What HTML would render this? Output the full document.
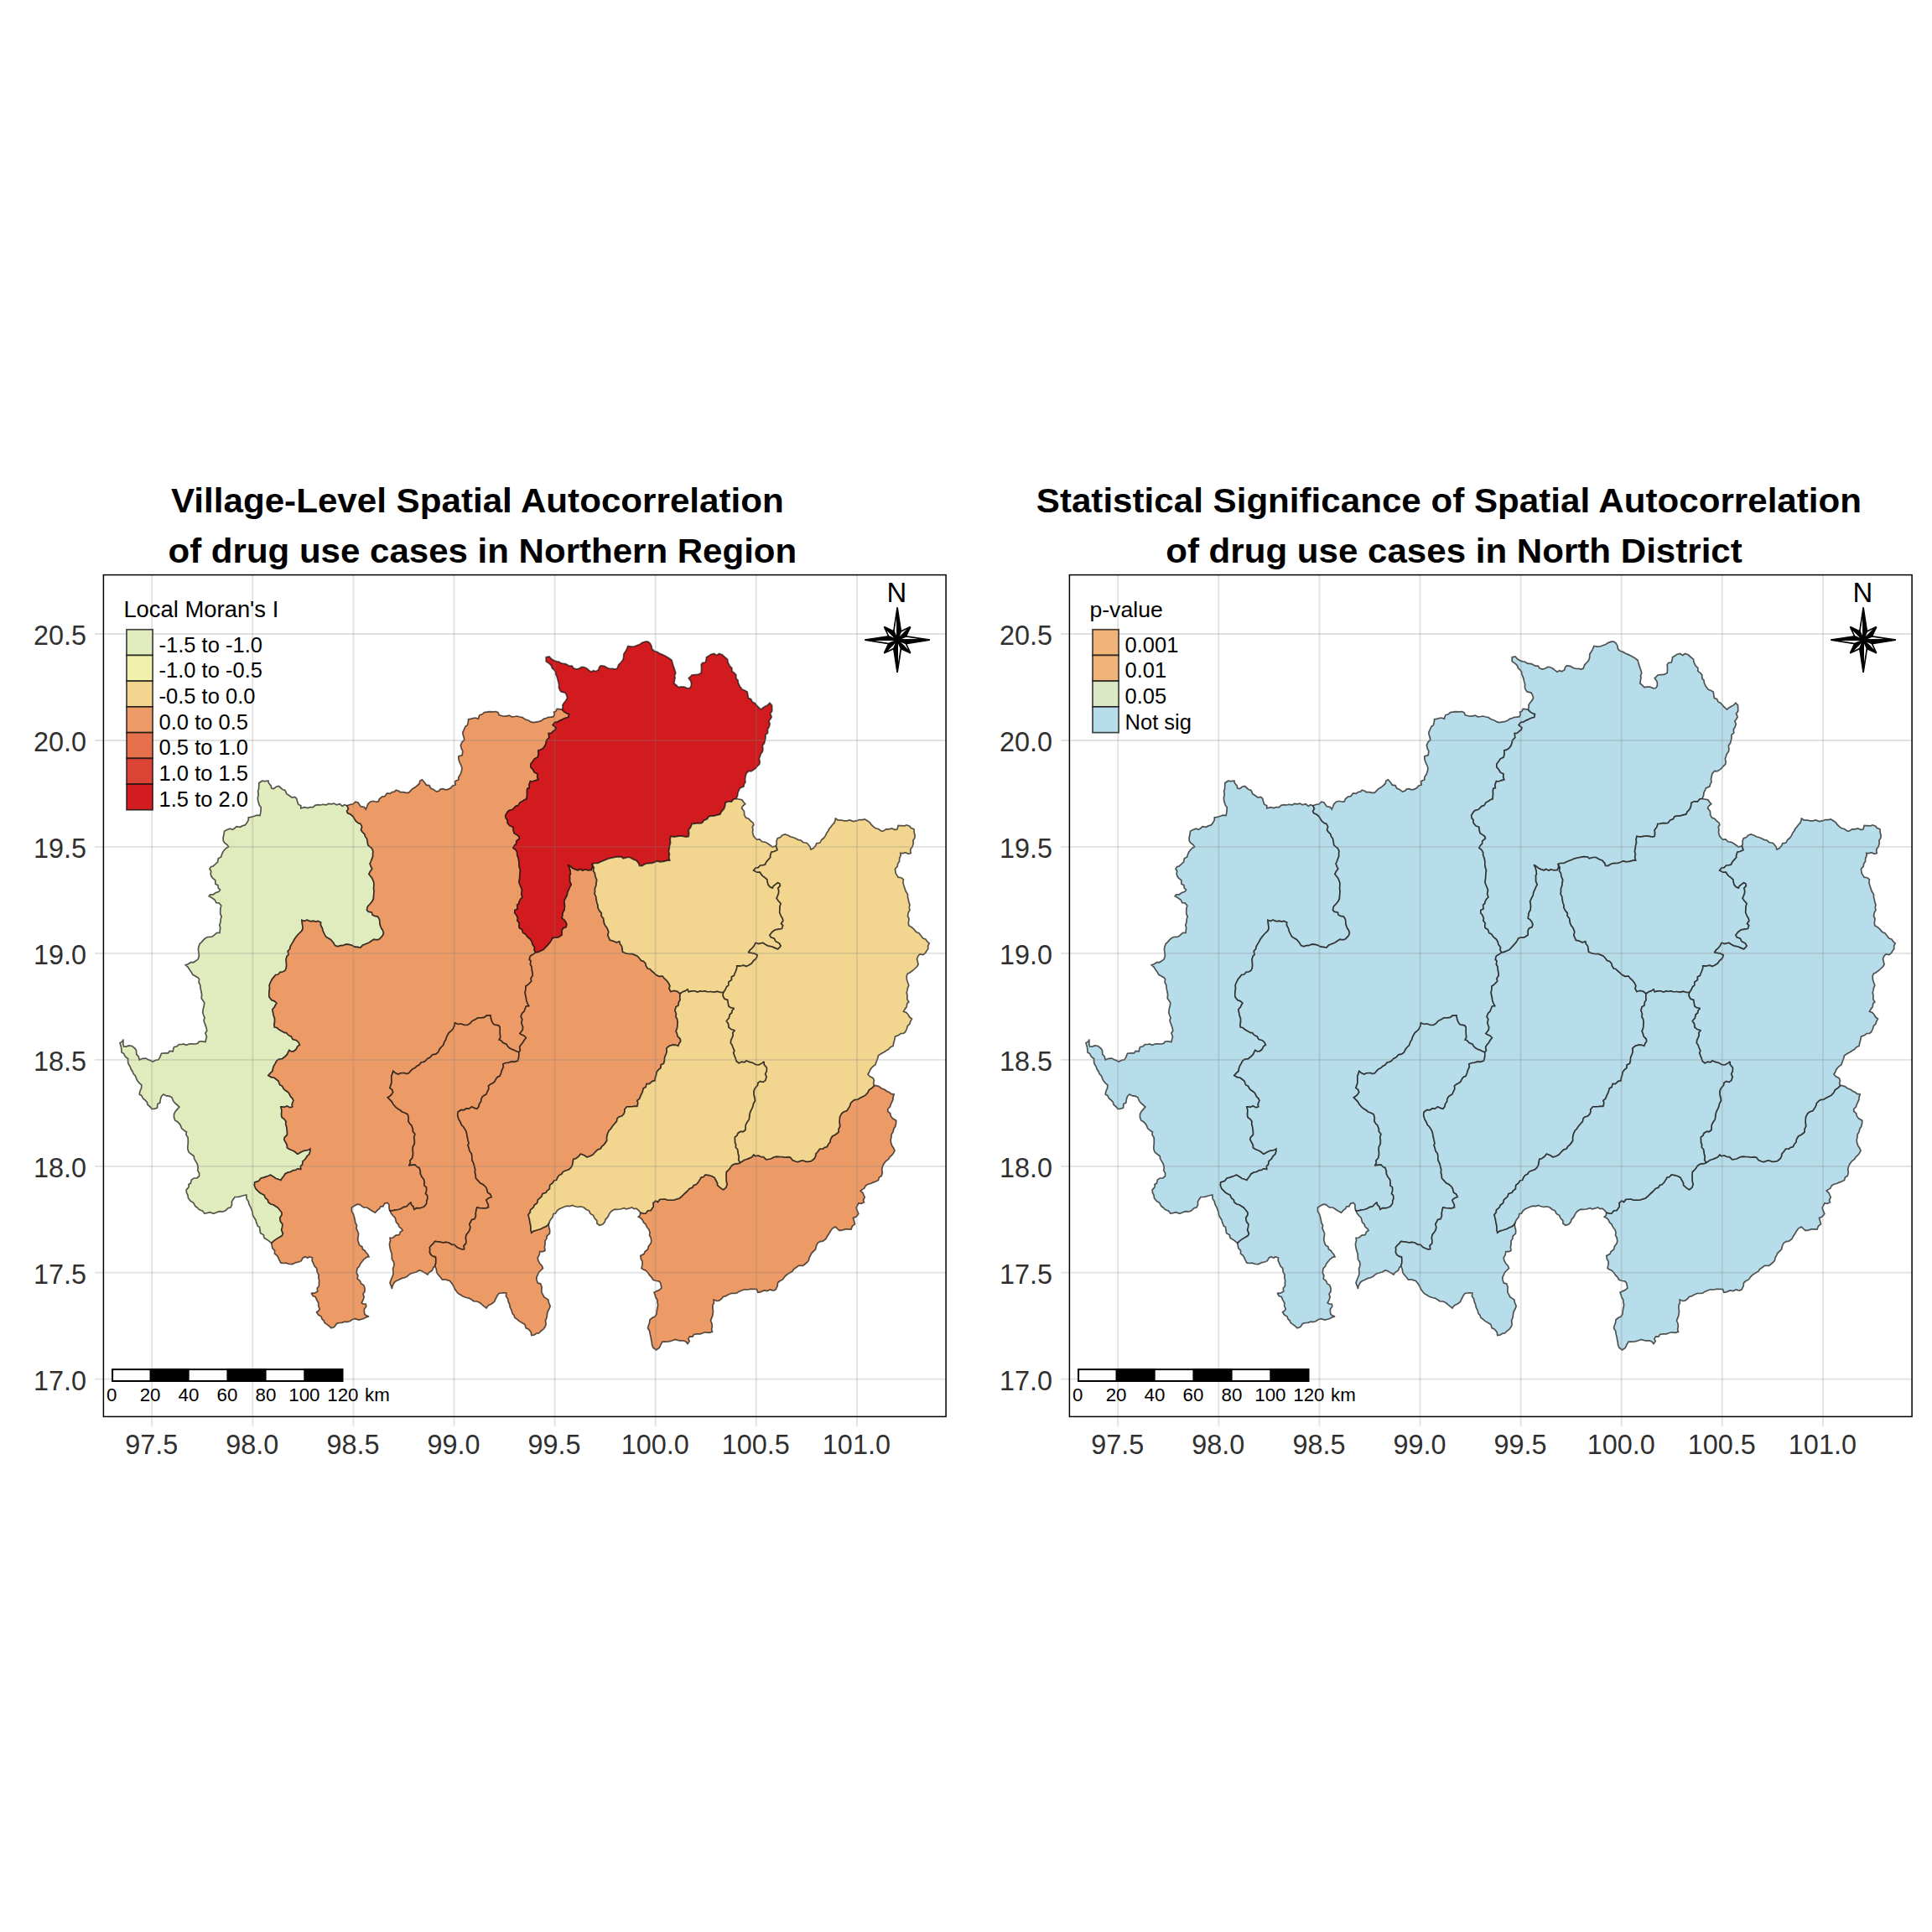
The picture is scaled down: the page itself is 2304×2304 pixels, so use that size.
<!DOCTYPE html>
<html><head><meta charset="utf-8"><title>Spatial Autocorrelation</title>
<style>
html,body{margin:0;padding:0;background:#fff}
svg{display:block}
text{font-family:"Liberation Sans",Arial,sans-serif}
.ax{font-size:32.4px;fill:#303030}
.lt{font-size:27.4px;fill:#000}
.ll{font-size:25.5px;fill:#000}
.nn{font-size:32.8px;fill:#000}
.sb{font-size:22.3px;fill:#000}
.tt{font-size:40.5px;font-weight:bold;fill:#000}
</style></head><body>
<svg width="2304" height="2304" viewBox="0 0 2304 2304">
<rect width="2304" height="2304" fill="#fff"/>
<defs>
<path id="r-green" d="M413.8,960.8 410.7,959.7 408.3,961.4 405.1,958.8 401.4,959.9 398.5,958.1 395,958.8 391.6,958.4 389.5,959.8 384.9,959.3 382.5,960 379.5,959.7 375.8,960.3 373.4,962.6 370,962.5 367.1,963.6 363.3,962.7 358.8,963.8 358.8,960.8 355.7,959.2 354.5,955.6 353.8,952.5 351.6,950.4 348.2,951.2 345,948.8 341.8,946.6 340,942.5 337.1,941.6 334.2,939 332.5,937.5 329.3,938.3 326.4,940.6 323.8,940 323,937 320.4,933.7 320,931.2 315.5,931.7 312.5,931.2 308.8,933.8 308.7,937.8 308.5,941 307.6,943.1 308.2,947.7 307.4,951.2 307.5,953.8 308,956.3 309.4,960.6 311.2,962.5 311.1,965.9 310.7,969.4 310,972.5 306.5,972.1 302.5,973.5 299.6,974.3 296.2,975 296.3,977.8 294.5,981 292.5,983.8 289,984.9 286.3,986.3 282,985.6 280,987.5 277.4,989.4 274,988.1 270.3,989.7 267.5,991.2 266.9,995.5 266.1,999.1 266.2,1002.5 267.6,1005 271.3,1007.8 272.5,1010 269.7,1011.4 266.6,1014.7 265,1017.5 263.6,1021.9 260.3,1023.8 259.6,1027.8 257.5,1030 254.4,1032.7 251.5,1033.7 250,1036.2 251.7,1039 251.2,1042.1 251.8,1044.6 253.8,1047.5 256.8,1049.9 256.9,1054.2 260,1055.7 260.2,1058.9 262.5,1061.2 261,1063.3 256.9,1064.8 254.2,1066.8 250.7,1066.9 249.2,1068.8 252.8,1070.8 256.2,1073.2 257.9,1076.6 261,1076.8 263.8,1080 262.9,1083.4 262.7,1086 262.8,1090.5 264.2,1092.7 263.3,1095.7 262.9,1099.8 261.8,1103.2 262.7,1106.2 262.4,1108.6 262,1112.5 258.6,1112.4 254.9,1115.6 252.7,1117.2 247.5,1117.5 245,1118.8 242.6,1120.9 240.3,1123.6 238.4,1125.3 237,1128.8 236.4,1132.1 236.9,1135.5 237.4,1139.9 236.2,1143.8 233.6,1145.8 230.6,1147.8 227.9,1147.5 224.2,1149.7 221.2,1150.8 224.4,1153.5 225.6,1155.7 227.9,1158.9 230,1162.5 232.4,1163.8 235.8,1165.8 237.5,1167.5 237.1,1171.5 238.8,1174.9 239.1,1178.9 240,1182.5 240.6,1185.8 240.2,1190.6 242.2,1193.4 243.8,1196 243.2,1200 242.4,1202.5 241.7,1207.5 242.5,1210 244,1213.7 243.1,1216.7 243.5,1219.1 244.6,1221.4 245.8,1225 246.8,1229.1 244.9,1232.2 246.5,1236.3 245.7,1239.1 245,1242.5 240.5,1241.8 237.5,1242 235.6,1244.4 232.5,1245 229.7,1244.8 226,1244.8 222.1,1246.3 218.8,1245 216.7,1245.5 213.3,1245.7 211.2,1247.7 207.5,1248.8 206.6,1251.4 206.2,1253.8 202.2,1253.4 200.4,1255.9 196.8,1255.9 192.5,1256.2 190.7,1260.9 188.8,1263.8 185.9,1264.2 182.3,1266 180,1265 177.5,1263.9 173.8,1262 170.3,1262.3 166.2,1263.8 165.2,1260 162.8,1257.4 162.5,1252.5 160.8,1250.2 157.5,1247.5 153.6,1246.9 150.5,1248.1 147.5,1248 146.8,1245.1 146.9,1241.5 147,1239.5 146.2,1241.8 143,1243.8 144.3,1248 144.8,1251.2 145,1255 147.6,1256.6 149.5,1260.3 152.5,1262.5 152.6,1266.6 153.1,1268.6 155.3,1272.4 156.2,1275 158.3,1278.2 158.9,1280.4 161.7,1283.5 162.5,1286.2 164.2,1289.2 166.1,1291.6 168.8,1293.8 168.6,1297.5 167,1300.9 166.2,1305 168.7,1306.4 170.9,1310.4 172.5,1311.5 175.3,1314.4 176,1317.2 179.2,1320.2 181.2,1322.5 184.9,1322.1 187.5,1321.2 188,1316.6 190.8,1315.1 191.4,1310.9 192.5,1307.5 195,1305 198.6,1306.9 201.8,1307.2 205,1308.8 206.6,1312.9 208.1,1314.9 211.6,1318 213.8,1320 211.2,1323.1 209.1,1325.5 207.5,1328.8 207.4,1332.1 208.8,1336.2 211.7,1337.8 214.4,1340.6 215.5,1342.7 216.7,1345.8 220.4,1348.7 222.5,1350 221.8,1353.1 224.1,1356.6 224.3,1359.8 224.3,1362.8 223.9,1366.7 223.8,1370 225,1373.8 227.9,1376.3 231.2,1378.8 231.6,1381.8 234.1,1386.2 235.4,1388.4 236.2,1392.5 235.7,1395.9 237.6,1399 237.5,1402.5 234.8,1404.9 231.2,1405 228.4,1406.9 227.3,1411.1 225,1412.5 225.2,1415.4 222.1,1419.1 222.5,1422.5 224,1425.3 224.5,1429 227.5,1432.5 230.7,1434.3 232.8,1438.4 235,1440 237.6,1442.6 241.7,1444.1 243.8,1447 246.8,1446.6 250.5,1445.6 254.7,1447.3 257.5,1446.2 260.7,1444.9 262.7,1444.7 266.2,1445 269.1,1443.5 272.2,1440.6 275,1440 276.6,1436.6 276.4,1433.3 277.5,1431.2 280,1427.5 284.7,1427.3 288.4,1426.2 291.2,1425.5 293.8,1425 294.1,1429.7 296.2,1432.5 297,1436.2 298.7,1439.3 300,1442.5 301,1445.6 301.6,1449.6 303.3,1452.2 305,1455 305.6,1457.6 307.4,1462.2 309.5,1463.3 310,1467.5 310.7,1470.7 314.4,1472.7 315,1476.2 318.6,1478.4 321.5,1480.7 323.8,1482.5 326.8,1479.6 329.7,1477.6 333.7,1475.3 336.2,1473.8 337.5,1471.2 335.7,1466.6 336.5,1463.9 337,1460 334.6,1456.8 333.8,1452.5 336,1448.9 336.2,1446.2 333.9,1443.3 331.2,1440 328.4,1438.3 326.3,1436.7 323.1,1436 320,1433.8 319.5,1431.1 316.5,1428.5 315,1425 312.8,1424.1 309.8,1422.3 307.6,1420.1 305,1417.5 303.4,1413.5 303.8,1410 307.5,1408.9 309.3,1407.6 311.2,1405 314.2,1404.4 317.8,1403.1 319.6,1402.5 322.5,1401.2 325.9,1403.3 329.1,1405.5 331.8,1406.2 335,1407.5 336.5,1405 338.2,1403.1 340,1400 343.9,1397.9 346.4,1397.6 350,1395.5 352.2,1395.6 354.9,1393.8 358.8,1394.5 358.5,1390.6 360.6,1389 361.2,1385 364.4,1382 366.2,1378.8 369,1376.3 370,1372.5 370,1370 367.2,1371.5 363.9,1371.9 361.1,1372.8 357.8,1374.5 355,1376.2 351.7,1373.5 349.6,1372.2 345.3,1370.5 342.5,1368.8 342.4,1365.5 340.2,1361.3 338.8,1358.8 339.6,1356.3 342.5,1353.3 342.5,1350 342.3,1347.5 341.7,1343.7 340.7,1340 341.2,1337.5 339,1334.6 336.2,1332.5 335.6,1330 335.8,1326.1 335.9,1323.8 335,1320 339.3,1320.4 342.2,1319 345.9,1320.9 348.8,1320 348.3,1316.6 350,1312.5 348.8,1309.8 346.8,1307.9 344.7,1303.8 343,1302 340,1300 338.1,1298.2 336.8,1295.3 333.7,1293.7 332,1289 330,1287.5 326.9,1285 323.6,1284.6 320,1282.5 322.1,1280.1 325,1277.5 325.6,1274 326.6,1271 328.4,1268.2 330,1265 332.4,1263.4 336.3,1262.9 340,1260 342.7,1257.2 343.7,1254.7 345,1252.5 347.1,1253.9 350,1253.8 352.9,1251.8 354.9,1247.9 357.5,1246.2 356,1242.9 353.6,1240.7 349,1239.4 347.5,1236.2 343.6,1234.2 341.6,1231.6 339.2,1231.4 335,1229.1 332.5,1227.5 330.2,1225.5 327.5,1225 326.9,1222 327.6,1218.7 327.6,1214.7 326.3,1211.1 325.6,1207.6 325,1203.8 327.5,1200.9 328.4,1198.9 330,1196.2 327,1193.6 323.8,1192.5 321,1188.7 320.8,1185 321.2,1181.6 321.6,1177.9 321.2,1175 322.9,1170.8 324.5,1167.8 326.9,1164.9 328.8,1162.5 331.6,1162.3 334.3,1159.3 337.4,1159 340,1157.5 341.3,1154.5 341.7,1150.8 341.4,1147.6 341.2,1143.8 342.1,1140.4 344.1,1138.5 343.3,1134.5 345.8,1131.5 346.2,1128.8 347.7,1126.1 349.4,1123.4 351.4,1119.8 352.8,1117.8 355,1115 356.9,1113 359.7,1110.4 361.2,1107.5 360.9,1105 360.5,1101.7 360,1097.5 363.2,1098.6 366.1,1097.1 370,1098.8 373.5,1098.4 377.1,1099.2 379,1098.5 382.5,1100 382.3,1103.2 384.4,1107.2 385,1110 386.7,1113.6 388.6,1117.1 391.2,1118.8 394.2,1120.5 397.3,1123.9 399.4,1127.6 402.5,1128.8 406.4,1127.7 408.7,1127.7 412.5,1126.2 416.1,1126.4 420,1127.5 422.8,1129.2 427.2,1129.7 430,1130 432.5,1127.3 436.3,1125.8 439.9,1124.2 442.5,1122.5 445.6,1120.4 449.8,1120.8 452.5,1120 455.1,1117.2 456.5,1115.5 457.5,1112.5 456.3,1109 454.8,1107 453.1,1102.3 453,1100 452.5,1096.2 450.3,1092.9 447.2,1092.4 444.1,1090.9 443.4,1087.9 439.3,1087.2 437.5,1085 438.6,1080.9 441.6,1077.8 443.8,1075 445.4,1071.9 445.6,1068.4 445.9,1065.4 446.2,1062.5 445.6,1059.9 445.9,1056.8 446,1053.3 445,1050 443.4,1046.6 442.4,1045.5 440,1042.5 441.5,1039.2 443.8,1036.2 442.6,1033.7 441.2,1030 442.3,1027.5 443.4,1024.6 444.8,1020.8 444.6,1018 445,1015 443.2,1011.2 440.6,1009.4 438.8,1007.5 438.2,1003.3 437.5,1000 435.7,997.7 434.8,994.6 432.5,992.5 430.6,989.8 431.7,986 430,982.5 427.4,981.6 424.4,979.2 422.4,975.9 421,973.6 417.7,970.8 415,970 413.7,967.5 415.6,964.3 413.8,960.8Z"/>
<path id="r-cmai" d="M413.8,960.8 417.2,959.5 421.1,958.8 423.8,956.2 427,957 430.1,961.8 434.1,962.3 436.2,965 437.8,961.3 438.8,958.8 441.5,956.2 445,955.3 448.5,956.2 451.2,955.9 452.4,952.8 455.6,950 458.6,949.7 461.7,946 465,946.4 467.7,944.5 470.4,944.1 472.3,942.2 475.7,943.3 477.3,944.7 481.2,944.6 483.8,945.3 487.2,945.3 490.2,942.3 492.2,940.4 495.2,938.8 498.4,936 500.1,934.5 500.9,931.1 503.4,929.8 505.6,932.3 507.1,934.2 508.4,936.1 512,936.6 513.7,940 517,941.6 520.7,944.1 524.1,942.7 525.1,941 528.3,940.6 530.7,941.6 533.7,941.6 537.8,939.5 539.4,937.3 543.1,936 542.5,931.7 546.8,929.8 546.8,926.8 549.3,923 550.4,919.2 550.9,916 549.9,913 548.1,909.3 546.9,905.4 546.8,901.9 551.2,900.6 551.8,895.7 550.3,892.9 549.3,888.8 551.2,884.5 553.7,882.6 553.3,879.6 552,875.9 551.8,873.3 553.1,870.6 554.9,866.5 557.4,864.6 558.1,861.9 558.6,857.8 561.2,857.3 564.2,856.5 566.8,856 570.4,857.1 571.7,852.8 575.4,851.6 577.5,849.6 580.4,849.1 583.7,848.7 587.8,848.8 591.3,848.5 594,849.7 595.3,852.8 600.2,854 602.8,854.1 607.3,853.1 610.3,854.8 613.7,854.5 616.4,854 620.2,855 622.6,855.3 626.3,857.8 630.6,859.3 633.2,860.9 635.9,861.6 640,860.9 642.9,860.4 645.8,859.2 648.8,857.1 651.2,856.5 653.9,855.3 656.8,855.1 659.9,854.7 661.2,851.9 660.5,849.1 662.6,848.6 664.2,845.3 667.1,845.6 670.4,846.2 672.9,848.9 675.6,850.6 678.5,851.6 677.9,855.3 675.5,856 673.1,856.7 669.8,858.4 666.8,859.7 664.8,861.1 661.7,861.5 659.3,864.6 663,867.7 662.2,870.5 659.9,872 657.2,874.5 654.3,874.5 654.9,879.5 651.7,882.8 651.2,885.7 650,889.4 647.5,892.5 644.4,894.4 641.9,895 642.2,899 641.2,903.1 637.2,905.1 635.7,907.5 632.9,911.2 633,914.9 635.7,918 637.2,920.9 641.2,923 640.7,926.1 641.9,929.8 639.1,930.6 635.1,932 632.5,931.7 631,935.7 631.3,939.8 628.8,940.4 628.4,944.1 628.7,946.1 628.3,950.6 628.2,952.8 625.1,954 623.5,955.3 620.1,957.1 618,960.6 614.9,961.6 612.7,964 610.9,965.6 607,966.6 605.2,968.3 602.7,972.7 603.4,975.9 605.1,977.7 605.2,981.4 608.1,984.9 612,986.3 612.2,990.1 613.3,993.8 616.5,995.6 618.9,997.5 619.5,1000 615.8,1003.1 615.7,1006.1 613.6,1008.2 612,1011.2 615.2,1013.7 616.8,1016.9 616.7,1019.7 618.2,1023.4 618.9,1027.3 618.9,1030.5 619.5,1034.8 620.5,1037.5 620.2,1040.4 619.8,1044.4 619.7,1047.4 619,1052.2 620,1055 621.7,1059 622.6,1061.6 621.7,1065.9 623,1070 620.6,1072.4 619.1,1075.4 618.8,1077.5 616.7,1079.3 617.2,1084 613.9,1085.6 613.8,1088.8 615.9,1091.2 617.5,1095 616.9,1097.7 619.4,1101.1 618.8,1103.8 619.3,1106.5 622.5,1108.5 623.8,1112.5 626.8,1113.9 629,1117.2 632.5,1120 634.3,1123.1 635,1126.2 637.6,1129.8 637.1,1132.8 638.8,1135.8 636.4,1137.7 632.5,1140 631.3,1144.2 633.1,1145.9 632.5,1150 634.1,1152.7 634.5,1157.5 635.1,1160.2 635.3,1163.2 633.1,1166.8 633.8,1170 631.2,1172.8 629.1,1174.8 627,1176.2 627.1,1179.1 626.2,1183.7 626.8,1187.3 627.5,1190 627.8,1193.1 629.6,1197.7 631.2,1200 627.5,1200 626,1203.7 625,1206.3 622.6,1208.5 621.2,1212.5 622.9,1215.6 622.1,1218.8 622.3,1221.2 623.8,1225 623.2,1228.4 620,1232.5 622.4,1234 624.9,1235 627.5,1237.5 624.9,1241 623.3,1243.7 621.2,1246.2 619.7,1248.5 620.5,1252.8 618.8,1255 616.3,1254 612.2,1252.1 610,1251.2 607.3,1249.8 605,1247.3 603.8,1245.3 600,1243.8 597.3,1240.8 595,1240 596.6,1236.8 596.1,1232.3 596.1,1228.7 596.2,1225 594.4,1222.9 589.2,1222 587.5,1220 586.1,1217 585.3,1214.3 585,1211.2 580.3,1211.2 577.4,1213.4 574.2,1213.9 570,1213.8 567.4,1215.5 562.8,1217.8 561.1,1220.2 557.5,1222.5 553.6,1222.5 550.1,1221 546.3,1221.5 542.5,1220 542,1223.4 540,1227.5 537.5,1230 535.1,1232.1 532.8,1236.3 531.8,1239.7 530,1242.5 528.5,1246.8 525.8,1249.2 524,1251.8 522.5,1255 519.7,1257.2 515.8,1257.8 513,1261.1 510,1262.5 507.4,1265.2 504.8,1266.6 502.5,1266.8 500,1270 497.1,1271.4 495.2,1273.4 492.1,1274.9 489.8,1277.1 487.5,1280 484.3,1280.5 482,1279.5 477.4,1279.8 475,1281.2 471.2,1279.5 468.8,1277.5 468.1,1280.1 466.8,1283.7 467,1287.4 466.9,1291.8 466.1,1293.9 465,1297.5 467.6,1299.2 468.8,1302.5 466.8,1305.6 464.9,1307.2 462.5,1308.8 464.8,1311.1 467.2,1313.6 469,1316.7 472.4,1320.7 475,1322.5 477.1,1323.8 479.8,1326 482.9,1327 486.2,1328.8 487.4,1333 487,1337.1 488.8,1340 490.8,1341.9 492.5,1346.6 492.4,1349.3 495,1352.5 493.7,1356.5 494.4,1359.5 494.3,1364.1 492.5,1367.5 492.2,1371 492.6,1374.6 492.5,1377.5 491.7,1381.2 489.1,1384 489.5,1387.3 487.5,1390 491.1,1389.1 495,1388.8 497.2,1391.3 500,1392.5 501.4,1396.8 501.4,1399.9 503.2,1403.5 505.6,1406.5 506.2,1410 506.1,1413.9 508.5,1415.6 508.8,1419.7 507.6,1423.5 509.6,1425.3 510,1428.8 509,1431.9 508.6,1435.5 506.2,1438.8 502.8,1440.2 500.1,1440.9 496.8,1440.7 493.8,1442.5 492.7,1438.7 490.6,1437.1 490,1433.8 487.7,1435.8 485,1438.8 480.7,1439.8 478.8,1441.3 475,1442.5 472.3,1442.8 467.7,1443.8 465,1443.8 464,1441 463.9,1436.5 462,1434.5 458.9,1435.1 456.6,1438.8 453.8,1438.8 452.8,1441.3 450,1443.4 447.5,1446.2 443.5,1444 441.2,1442.5 437.5,1440 433.7,1440 431.5,1438.6 429.5,1436.6 426.2,1436.2 423.1,1437.7 419.5,1440 419.5,1444.6 421.1,1447.2 422.5,1451.2 423.3,1454.8 423.8,1458 425.6,1461.5 424.9,1464.9 426.2,1467.5 427.6,1471 427.2,1474.7 426.6,1478.2 427.8,1482.4 428.8,1485 432.1,1486.9 432.4,1489.7 435,1491.2 436.7,1493.8 438.4,1495.4 440,1498.8 437.6,1499.1 434,1501.8 432.5,1503.8 430,1506.7 428.4,1510.3 426.2,1512.5 425.5,1515.8 425.3,1518.2 426.9,1521 426.2,1525 429.2,1527.4 430.9,1531 433.8,1532.5 435.1,1536.7 435,1540 433,1543.4 434.2,1546.6 433,1550.4 431.2,1553.8 432.9,1554.8 436.2,1555 436.8,1557.9 434.3,1561.6 434.5,1565.1 435,1567.5 437.1,1568.9 440,1570 436.7,1570.8 433.8,1572.5 429.6,1573.7 427.7,1574.1 423.5,1572.7 420,1573.8 417,1575.8 413.9,1576.6 411.4,1576.2 407.7,1577.3 405,1577.5 401.7,1578.3 398.7,1582.6 395,1583.8 393,1581.9 390.1,1579.6 387.1,1577.4 386.2,1575 384,1573 383,1570.1 379.6,1568.1 377.5,1565 380.1,1562.9 381.2,1561.2 379.6,1557 379.8,1553.8 377.5,1550 376.4,1546.7 373.2,1545.5 371.2,1542 374.8,1542.2 378.8,1540 378.2,1536.3 380.4,1533.7 380.4,1529.5 380.7,1527.5 379.8,1523.6 380,1520 378.2,1517 377.6,1512.3 375,1510 373.9,1507.1 372.1,1503.4 372.5,1500 368.9,1498.7 366.9,1500.2 363.8,1498.8 361.2,1500.2 359.3,1503.7 356.2,1505 353,1505.6 348.8,1507.6 345,1507.5 341.1,1506.2 338.9,1506.5 335,1506.2 333.3,1503.1 331.7,1499.7 330.6,1497.5 327.5,1495 327.5,1491.2 324.8,1488.5 324.3,1485.7 323.8,1482.5 326.8,1479.6 329.7,1477.6 333.7,1475.3 336.2,1473.8 337.5,1471.2 335.7,1466.6 336.5,1463.9 337,1460 334.6,1456.8 333.8,1452.5 336,1448.9 336.2,1446.2 333.9,1443.3 331.2,1440 328.4,1438.3 326.3,1436.7 323.1,1436 320,1433.8 319.5,1431.1 316.5,1428.5 315,1425 312.8,1424.1 309.8,1422.3 307.6,1420.1 305,1417.5 303.4,1413.5 303.8,1410 307.5,1408.9 309.3,1407.6 311.2,1405 314.2,1404.4 317.8,1403.1 319.6,1402.5 322.5,1401.2 325.9,1403.3 329.1,1405.5 331.8,1406.2 335,1407.5 336.5,1405 338.2,1403.1 340,1400 343.9,1397.9 346.4,1397.6 350,1395.5 352.2,1395.6 354.9,1393.8 358.8,1394.5 358.5,1390.6 360.6,1389 361.2,1385 364.4,1382 366.2,1378.8 369,1376.3 370,1372.5 370,1370 367.2,1371.5 363.9,1371.9 361.1,1372.8 357.8,1374.5 355,1376.2 351.7,1373.5 349.6,1372.2 345.3,1370.5 342.5,1368.8 342.4,1365.5 340.2,1361.3 338.8,1358.8 339.6,1356.3 342.5,1353.3 342.5,1350 342.3,1347.5 341.7,1343.7 340.7,1340 341.2,1337.5 339,1334.6 336.2,1332.5 335.6,1330 335.8,1326.1 335.9,1323.8 335,1320 339.3,1320.4 342.2,1319 345.9,1320.9 348.8,1320 348.3,1316.6 350,1312.5 348.8,1309.8 346.8,1307.9 344.7,1303.8 343,1302 340,1300 338.1,1298.2 336.8,1295.3 333.7,1293.7 332,1289 330,1287.5 326.9,1285 323.6,1284.6 320,1282.5 322.1,1280.1 325,1277.5 325.6,1274 326.6,1271 328.4,1268.2 330,1265 332.4,1263.4 336.3,1262.9 340,1260 342.7,1257.2 343.7,1254.7 345,1252.5 347.1,1253.9 350,1253.8 352.9,1251.8 354.9,1247.9 357.5,1246.2 356,1242.9 353.6,1240.7 349,1239.4 347.5,1236.2 343.6,1234.2 341.6,1231.6 339.2,1231.4 335,1229.1 332.5,1227.5 330.2,1225.5 327.5,1225 326.9,1222 327.6,1218.7 327.6,1214.7 326.3,1211.1 325.6,1207.6 325,1203.8 327.5,1200.9 328.4,1198.9 330,1196.2 327,1193.6 323.8,1192.5 321,1188.7 320.8,1185 321.2,1181.6 321.6,1177.9 321.2,1175 322.9,1170.8 324.5,1167.8 326.9,1164.9 328.8,1162.5 331.6,1162.3 334.3,1159.3 337.4,1159 340,1157.5 341.3,1154.5 341.7,1150.8 341.4,1147.6 341.2,1143.8 342.1,1140.4 344.1,1138.5 343.3,1134.5 345.8,1131.5 346.2,1128.8 347.7,1126.1 349.4,1123.4 351.4,1119.8 352.8,1117.8 355,1115 356.9,1113 359.7,1110.4 361.2,1107.5 360.9,1105 360.5,1101.7 360,1097.5 363.2,1098.6 366.1,1097.1 370,1098.8 373.5,1098.4 377.1,1099.2 379,1098.5 382.5,1100 382.3,1103.2 384.4,1107.2 385,1110 386.7,1113.6 388.6,1117.1 391.2,1118.8 394.2,1120.5 397.3,1123.9 399.4,1127.6 402.5,1128.8 406.4,1127.7 408.7,1127.7 412.5,1126.2 416.1,1126.4 420,1127.5 422.8,1129.2 427.2,1129.7 430,1130 432.5,1127.3 436.3,1125.8 439.9,1124.2 442.5,1122.5 445.6,1120.4 449.8,1120.8 452.5,1120 455.1,1117.2 456.5,1115.5 457.5,1112.5 456.3,1109 454.8,1107 453.1,1102.3 453,1100 452.5,1096.2 450.3,1092.9 447.2,1092.4 444.1,1090.9 443.4,1087.9 439.3,1087.2 437.5,1085 438.6,1080.9 441.6,1077.8 443.8,1075 445.4,1071.9 445.6,1068.4 445.9,1065.4 446.2,1062.5 445.6,1059.9 445.9,1056.8 446,1053.3 445,1050 443.4,1046.6 442.4,1045.5 440,1042.5 441.5,1039.2 443.8,1036.2 442.6,1033.7 441.2,1030 442.3,1027.5 443.4,1024.6 444.8,1020.8 444.6,1018 445,1015 443.2,1011.2 440.6,1009.4 438.8,1007.5 438.2,1003.3 437.5,1000 435.7,997.7 434.8,994.6 432.5,992.5 430.6,989.8 431.7,986 430,982.5 427.4,981.6 424.4,979.2 422.4,975.9 421,973.6 417.7,970.8 415,970 413.7,967.5 415.6,964.3 413.8,960.8Z"/>
<path id="r-lamphun" d="M618.8,1255 616.3,1254 612.2,1252.1 610,1251.2 607.3,1249.8 605,1247.3 603.8,1245.3 600,1243.8 597.3,1240.8 595,1240 596.6,1236.8 596.1,1232.3 596.1,1228.7 596.2,1225 594.4,1222.9 589.2,1222 587.5,1220 586.1,1217 585.3,1214.3 585,1211.2 580.3,1211.2 577.4,1213.4 574.2,1213.9 570,1213.8 567.4,1215.5 562.8,1217.8 561.1,1220.2 557.5,1222.5 553.6,1222.5 550.1,1221 546.3,1221.5 542.5,1220 542,1223.4 540,1227.5 537.5,1230 535.1,1232.1 532.8,1236.3 531.8,1239.7 530,1242.5 528.5,1246.8 525.8,1249.2 524,1251.8 522.5,1255 519.7,1257.2 515.8,1257.8 513,1261.1 510,1262.5 507.4,1265.2 504.8,1266.6 502.5,1266.8 500,1270 497.1,1271.4 495.2,1273.4 492.1,1274.9 489.8,1277.1 487.5,1280 484.3,1280.5 482,1279.5 477.4,1279.8 475,1281.2 471.2,1279.5 468.8,1277.5 468.1,1280.1 466.8,1283.7 467,1287.4 466.9,1291.8 466.1,1293.9 465,1297.5 467.6,1299.2 468.8,1302.5 466.8,1305.6 464.9,1307.2 462.5,1308.8 464.8,1311.1 467.2,1313.6 469,1316.7 472.4,1320.7 475,1322.5 477.1,1323.8 479.8,1326 482.9,1327 486.2,1328.8 487.4,1333 487,1337.1 488.8,1340 490.8,1341.9 492.5,1346.6 492.4,1349.3 495,1352.5 493.7,1356.5 494.4,1359.5 494.3,1364.1 492.5,1367.5 492.2,1371 492.6,1374.6 492.5,1377.5 491.7,1381.2 489.1,1384 489.5,1387.3 487.5,1390 491.1,1389.1 495,1388.8 497.2,1391.3 500,1392.5 501.4,1396.8 501.4,1399.9 503.2,1403.5 505.6,1406.5 506.2,1410 506.1,1413.9 508.5,1415.6 508.8,1419.7 507.6,1423.5 509.6,1425.3 510,1428.8 509,1431.9 508.6,1435.5 506.2,1438.8 502.8,1440.2 500.1,1440.9 496.8,1440.7 493.8,1442.5 492.7,1438.7 490.6,1437.1 490,1433.8 487.7,1435.8 485,1438.8 480.7,1439.8 478.8,1441.3 475,1442.5 472.3,1442.8 467.7,1443.8 465,1443.8 466.6,1447.4 468.8,1450 471.1,1452.2 472.6,1457.9 475,1460 475.8,1462.8 479,1465.5 480,1467.5 477.4,1469 476.2,1472.5 472,1473.1 468.7,1476 465,1476.2 465.6,1479.4 464.6,1482.3 464.5,1485.2 465.2,1489 466.2,1492.5 467.1,1495 467.3,1498.5 467.4,1501.8 469.4,1504.5 470,1507.5 469.6,1510.2 468.5,1512.9 468.9,1517.2 468.8,1520 467.5,1523.2 465.8,1527.2 465,1530 466.2,1533.1 467.5,1537 467.9,1534 470.1,1529.6 472.5,1527.5 475.2,1526.5 479.3,1524.4 482.5,1523.8 485.5,1522.2 487.9,1520.1 490,1518.8 492.8,1518 496.5,1517 500,1515 503,1515.7 506.8,1518.1 510,1520 511.4,1517.8 515.5,1515 516.9,1511.6 518.8,1510 519.8,1506 519.9,1502 519.5,1498.8 516.5,1498.2 513.8,1496.2 512.4,1493.1 512.8,1490.3 512.5,1487.5 514.9,1484.7 516.2,1483.6 518.8,1480.5 521.6,1480.8 525.7,1481.3 528.5,1482.1 531.5,1481.4 535,1482 538.8,1484.3 541.7,1484.3 545,1487.5 547.7,1488.7 551.4,1490 553.8,1489.5 553.2,1485.6 555.8,1482.8 556,1479.9 555.4,1476.3 556.2,1472.5 558.2,1470.1 560,1467.5 561,1463.5 559.9,1459.9 561.2,1457.5 562.7,1454.6 566,1453.8 567.5,1450 567.3,1446.7 568.1,1442.8 568.8,1440 572.1,1440.6 576.1,1440.9 578.5,1441.1 582.5,1440 582.4,1436.6 581.4,1434.7 580,1431.2 582.5,1428.9 586.2,1427.5 584.8,1424 581.7,1422.1 580.5,1417.5 579.2,1415.2 576.2,1412.5 572.4,1410.5 570.6,1408.3 567.5,1405 567.2,1400.7 566.4,1398.3 566.8,1395.1 566,1391.8 565,1387.5 563.2,1384 562.9,1382.3 562.9,1378.7 562.3,1375.6 560,1372.5 559.4,1369.4 558.1,1365.7 559.1,1363.4 558.2,1359.9 557.6,1357.2 556.9,1353.7 556.2,1350 554.9,1347.1 552.5,1343.5 550.3,1341.3 548.8,1337.5 547,1334.7 545.7,1329.4 546.2,1326.2 549.6,1323.7 553.4,1323.8 556.1,1322 559.2,1322.4 562.5,1320 566.1,1321.6 568.8,1322.5 571.1,1319.6 571.6,1316.5 573.7,1313.8 573.8,1311.2 575.3,1308.1 576.6,1306.9 580,1305 581.6,1301.1 583,1298.3 582.5,1295 585,1293 587.3,1291.9 590,1290 591,1287.6 593,1284.7 596.1,1283.3 597.5,1280 598.6,1276 600.4,1272.4 600,1268.8 604,1267.5 605.9,1267.5 610,1266.2 614,1266.3 617.5,1265 618.4,1262.3 618.9,1258.5 618.8,1255Z"/>
<path id="r-crai" d="M670.4,846.2 671.1,843.5 670.9,840.9 672.3,838.5 674.3,836.2 676.6,832.3 675.4,828.6 673.9,826.1 669.1,824.9 667.3,822.4 666.4,819.7 666.6,816.1 665.5,812.4 665,810 664.2,807 662.7,804.1 662.5,801.2 660.5,798.5 658.5,796.9 657.5,793.8 655.1,791.3 651.2,788.8 651.2,783.8 655,783 657.9,786 661.2,787.9 663.8,788.8 666.3,789 669.4,791.1 674,791.7 676.2,792.5 678.6,794.2 682.2,794.1 683.8,796.8 687.5,798 690.5,797.2 693.7,795.4 696.2,795.5 699.5,797 702.5,799.4 705,801.2 707.7,799.7 710.4,800.8 713.8,798.8 714.5,795.9 716.2,793.8 720.8,794.4 724.3,796.5 727.5,797.5 730.4,797.4 733.8,798 736.2,797 737.7,792.8 740.4,790 742.5,787.5 743.6,784.6 743.8,780 746.1,776.5 747.3,774.5 748.8,770.5 752.8,771.2 756.3,771 760,769.5 762.7,768.6 765.5,766.6 769.7,765.1 772.5,765 775.2,767 776.9,770.2 777.5,773.8 780,776.2 783.5,777.4 786.2,779 790.9,781.1 793.8,782.5 797.2,784.4 799.3,786 801.2,787.5 801.8,789.9 802.8,793.4 803.7,796 804.8,799.2 805.8,802.5 804.4,806.1 805.1,808.1 804.5,811.1 803.8,815 806.4,817 808.8,819.5 812,819.1 815.6,819 819.9,820.9 822.5,820.5 824.1,818.4 824.5,815 823.8,812.3 821.2,808.8 823.5,806.7 825,805 828.8,804.7 832.5,804.4 836.2,802.5 836.4,799.3 836.5,796.6 836.2,792.5 837.9,790.3 841.2,790 842.3,786.1 842.5,783.8 845.5,782.1 847.5,780.5 851.5,779.5 854.7,781.5 857.5,779.5 861.2,780.8 864.7,784 867.5,786.2 868.1,789.8 870,793.8 872.8,796.7 873,800.6 875,801.9 877.7,804.7 878,809.3 880,811.2 880.4,814.6 882.5,818.8 885.2,822.2 887.9,823.2 891.2,825 891.8,828.8 892.5,832.5 895.6,833.6 897,836.9 900.1,838.5 902.6,841.4 904.5,843.4 907.5,846.2 909.3,844.5 913.1,842 915.2,841.1 918,838.2 920.5,841.2 920.7,845.1 920.7,848.1 918.5,851 920.2,855 918.8,857.5 916.9,859.8 918.2,863.5 917.1,867.1 915.4,869.8 915.7,874.1 912.9,876.3 913,879.8 912.5,882.5 911.5,886.4 909.4,889 909.9,893 909.5,896.1 907.2,899.3 906.2,902.5 905.4,904.8 906.2,908.8 905.7,911.3 902.8,914.1 901.2,916.2 898.2,918.4 895.8,919.8 892.9,919.5 890,922.5 889,926.4 888.5,929.4 889,932.9 887.5,935 887,937.8 882.4,940 881.6,941.8 880,945 879.6,948.7 878,952.5 874.9,953.1 872.5,956.2 868.3,955.8 865,957.5 864.9,960 863.8,963.8 861.8,966.6 860.4,967.8 858.8,971.2 855.5,971.9 851.4,973.1 848,973.1 845,973.8 843.5,976.8 839.7,978.3 837.5,981.2 835.2,981.8 831.4,981.7 827.7,982.3 825,982.5 824.1,985.9 821.2,990 821.7,993.7 821.2,997.5 818.5,998.1 813.4,997.2 810.9,997 806.5,997.7 804.3,998.1 800,997.5 799.2,1000.8 799.6,1005.1 798.5,1008.8 798.4,1011.2 797.5,1015 798.5,1019 797.7,1022.1 798.8,1026.2 795.8,1026.2 791.3,1027.4 786.9,1027.8 783.8,1027 780.1,1028.5 777.5,1029.3 772.5,1029.7 770.1,1030 765.6,1032.6 762.5,1032.5 761.7,1029.7 758.8,1026.2 754.9,1024.7 751.2,1022.5 748.3,1022.5 743.3,1023.8 741.3,1022.1 737,1021.7 734.1,1022.1 730,1023 726,1023.8 722.8,1025.2 720,1026.2 715.9,1028 712.9,1029.5 708.7,1029.5 706.2,1030.5 706.7,1033.6 705,1037.5 701,1037.7 697.5,1036.7 695,1038 691.5,1036.2 689.2,1037.7 685.8,1036.6 682.5,1035 679.5,1032.4 677,1031.2 678.7,1034 680,1038.8 680.3,1042.6 679.3,1044.1 679.5,1047.5 679.4,1051 681.2,1055 679.8,1057.1 678,1061.5 676.7,1064 676.2,1067.5 673.9,1071.8 672.5,1075 673.1,1077.7 673.4,1080.8 673,1085 671,1088.5 670.6,1092.2 670,1095 672.6,1096.8 674.8,1099.6 675.8,1102.5 674.9,1105.6 671.3,1107 670,1110 670,1115 665.8,1117.6 661.9,1117.9 658.8,1118.8 657.4,1121.4 656,1123.6 653.8,1126.2 650.8,1129.4 648.1,1132.4 645,1133.8 641.8,1135.1 638.8,1135.8 637.1,1132.8 637.6,1129.8 635,1126.2 634.3,1123.1 632.5,1120 629,1117.2 626.8,1113.9 623.8,1112.5 622.5,1108.5 619.3,1106.5 618.8,1103.8 619.4,1101.1 616.9,1097.7 617.5,1095 615.9,1091.2 613.8,1088.8 613.9,1085.6 617.2,1084 616.7,1079.3 618.8,1077.5 619.1,1075.4 620.6,1072.4 623,1070 621.7,1065.9 622.6,1061.6 621.7,1059 620,1055 619,1052.2 619.7,1047.4 619.8,1044.4 620.2,1040.4 620.5,1037.5 619.5,1034.8 618.9,1030.5 618.9,1027.3 618.2,1023.4 616.7,1019.7 616.8,1016.9 615.2,1013.7 612,1011.2 613.6,1008.2 615.7,1006.1 615.8,1003.1 619.5,1000 618.9,997.5 616.5,995.6 613.3,993.8 612.2,990.1 612,986.3 608.1,984.9 605.2,981.4 605.1,977.7 603.4,975.9 602.7,972.7 605.2,968.3 607,966.6 610.9,965.6 612.7,964 614.9,961.6 618,960.6 620.1,957.1 623.5,955.3 625.1,954 628.2,952.8 628.3,950.6 628.7,946.1 628.4,944.1 628.8,940.4 631.3,939.8 631,935.7 632.5,931.7 635.1,932 639.1,930.6 641.9,929.8 640.7,926.1 641.2,923 637.2,920.9 635.7,918 633,914.9 632.9,911.2 635.7,907.5 637.2,905.1 641.2,903.1 642.2,899 641.9,895 644.4,894.4 647.5,892.5 650,889.4 651.2,885.7 651.7,882.8 654.9,879.5 654.3,874.5 657.2,874.5 659.9,872 662.2,870.5 663,867.7 659.3,864.6 661.7,861.5 664.8,861.1 666.8,859.7 669.8,858.4 673.1,856.7 675.5,856 677.9,855.3 678.5,851.6 675.6,850.6 672.9,848.9 670.4,846.2Z"/>
<path id="r-phayao" d="M706.2,1030.5 708.3,1034.6 707.6,1038.5 709.5,1041.2 710,1045 711.8,1049.4 711.2,1052.5 711,1055.5 709.5,1060 709.6,1063.1 709.2,1066.2 710.7,1068.9 711.2,1072.5 711.9,1076.5 713.2,1079.8 713,1082.4 715,1086.2 717.4,1088.8 717.2,1092.3 719.6,1095.2 720,1097.5 720.5,1100.7 721.7,1103.5 723.8,1106.2 725,1108.8 725.9,1111.4 724.9,1115.3 726.2,1118.4 727.5,1121.2 731.3,1122 735,1123.8 738.8,1122.5 739.4,1125.5 741.6,1128.3 742.2,1131.5 742.5,1135 745.9,1136.7 750,1137.5 754,1137.4 756.3,1138.4 760,1140 762.4,1142.5 764.6,1145.4 767.5,1146.2 769.9,1149 770.6,1151.9 772.5,1155 775,1155.5 777.5,1158 779.8,1159.8 782.5,1162.5 786.2,1164.3 790,1163.8 792.4,1167 795,1169.2 797.5,1172.5 799,1175.9 798,1178.7 800,1182.5 803.4,1181.3 807.5,1182 811.2,1185 814.3,1182.7 816.6,1182.2 820,1180 821.2,1183 823.8,1182.2 828.6,1181.8 831.7,1183.3 835,1182 837.5,1182.5 840.4,1181.9 844.1,1183 847.5,1182.5 850.9,1183.4 855.2,1182.4 858.7,1183.3 862.5,1183.8 864.5,1181.3 866.6,1176.8 868.8,1175 868.9,1171.2 872.5,1168.6 872.5,1165 875.3,1163.6 876.2,1161.2 877.5,1158.3 878.8,1154.4 878.8,1152 883.1,1152.2 886.6,1151.1 890,1152.5 893.2,1151 896.4,1149.1 898.8,1145.6 901.2,1143.8 902.6,1141.6 903.2,1138.8 899.7,1136.9 896.2,1136.3 892.5,1135.8 894.9,1132.7 896.2,1131.7 898.8,1128.8 901.2,1124.5 904.8,1125.6 909.7,1124.5 912.5,1126.2 915.9,1128.1 920,1128.8 923.7,1130.4 927.5,1132 929.8,1129.9 931.2,1128 929.4,1124.8 925,1122.5 923.5,1119.1 919.3,1117.6 918,1115 921.2,1111.2 924.6,1108.8 929.1,1108.1 932.5,1107.5 933.8,1103.5 931.6,1101.5 934,1098.1 933.2,1095 931.4,1092.2 929.7,1088 930,1085 930.2,1080.6 931.2,1077.5 928.1,1074 926.2,1071.2 927.2,1068.9 928.5,1065.6 928.8,1062.5 928,1059.1 930.5,1056.4 930,1053.8 927.5,1052.5 925,1054.4 922.2,1056.6 921.2,1058.8 918.1,1057.6 916.2,1055 915.1,1051.2 915,1048.8 912.4,1046.6 908.8,1043.8 906.2,1040 903,1040.2 898.8,1038 901.2,1035 904,1034.9 906.9,1032 909,1032 912.5,1031.2 913.8,1028.1 916.2,1025.4 918.8,1022.5 918.6,1020.1 920,1016.2 923.1,1015.5 927,1013.8 926.6,1012.1 925.4,1008.8 921.2,1010 918.2,1007.7 915,1005.5 911.9,1004.1 908.8,1003.8 905.7,1000.6 902.8,1001.3 900,998.8 898.5,996.6 897.5,992.5 897.9,989.6 897.3,986 898.8,983.8 898.1,981.2 895,978.8 893,976.5 889.5,975 887.7,972.1 887.5,967.5 884.5,963.8 885.7,961.4 888.8,958.8 887.1,957.1 885,953.8 880.7,953 878,952.5 874.9,953.1 872.5,956.2 868.3,955.8 865,957.5 864.9,960 863.8,963.8 861.8,966.6 860.4,967.8 858.8,971.2 855.5,971.9 851.4,973.1 848,973.1 845,973.8 843.5,976.8 839.7,978.3 837.5,981.2 835.2,981.8 831.4,981.7 827.7,982.3 825,982.5 824.1,985.9 821.2,990 821.7,993.7 821.2,997.5 818.5,998.1 813.4,997.2 810.9,997 806.5,997.7 804.3,998.1 800,997.5 799.2,1000.8 799.6,1005.1 798.5,1008.8 798.4,1011.2 797.5,1015 798.5,1019 797.7,1022.1 798.8,1026.2 795.8,1026.2 791.3,1027.4 786.9,1027.8 783.8,1027 780.1,1028.5 777.5,1029.3 772.5,1029.7 770.1,1030 765.6,1032.6 762.5,1032.5 761.7,1029.7 758.8,1026.2 754.9,1024.7 751.2,1022.5 748.3,1022.5 743.3,1023.8 741.3,1022.1 737,1021.7 734.1,1022.1 730,1023 726,1023.8 722.8,1025.2 720,1026.2 715.9,1028 712.9,1029.5 708.7,1029.5 706.2,1030.5Z"/>
<path id="r-nan" d="M925.4,1008.8 926.3,1006.7 926,1003.4 927,1000 930.9,998.4 932.5,996.2 936.1,995 940,996.2 942.6,997.7 946.2,998.8 948.6,999.7 952.2,1001.6 955,1002 957.8,1004.5 962.5,1005.5 964.4,1007.7 966,1009.8 967,1013 970,1011.6 972.5,1008.8 973.8,1005.8 977.8,1005.1 980,1001.2 982,999.8 984.2,996.9 986,992.9 987.5,991.2 988.9,988.3 990.8,986.1 992.5,983.8 994.7,981.4 996.1,978.4 996.2,975.8 999.6,978.1 1003.8,978 1006.4,978.8 1010,978.8 1013.5,978 1017.5,979.5 1022,978.6 1025,977.5 1028.6,977.6 1031.2,977 1034.7,978.9 1037.5,981.2 1038.9,983.1 1041.9,986.1 1043.8,987.5 1047.4,988.5 1051.2,991.2 1053.6,990.9 1057,988.6 1060,988.8 1063.8,987.9 1067.3,989.6 1070,988.8 1071.2,984.5 1073.8,984.6 1078.8,984.8 1081.2,983.8 1085.1,985.4 1086.1,987.4 1090,988.8 1090.2,992.8 1091.2,996.2 1090.8,999.5 1088.8,1002.5 1089.3,1005.6 1088,1009.9 1085.7,1013.1 1086.2,1017.5 1083.4,1018.3 1079.5,1016.6 1076.8,1017.7 1073.8,1017.5 1074.2,1020.3 1072.7,1023.3 1072.5,1027.5 1070.6,1030.1 1070.3,1033.1 1067.5,1036.2 1068,1040.7 1069.1,1042.9 1071.2,1046.2 1074.8,1046.7 1077.5,1048.8 1076.9,1051.9 1077.5,1054.9 1078.8,1058.8 1079.9,1062.3 1082.5,1066.5 1082.5,1070 1083.2,1072.4 1083.9,1076.2 1085,1078.8 1084.3,1082.2 1085,1085.3 1083.2,1088.3 1082.5,1092.5 1084.1,1095.7 1083.3,1100.7 1083.8,1103.8 1087.2,1105.7 1090.4,1108.6 1092.5,1111.2 1096.1,1112.9 1097.7,1115.1 1100.8,1119.1 1103.8,1120 1106.1,1123.2 1108.2,1125 1106.7,1127.9 1106.7,1131.8 1104.9,1134.1 1103.8,1136.2 1101,1138.7 1097.1,1138 1095,1140 1093.5,1143.7 1094,1145.5 1095.1,1150.2 1093.8,1152.5 1090.6,1155.5 1088.8,1157.2 1085,1160 1082.5,1161 1081.2,1163.8 1081.4,1168.2 1082.6,1171.8 1083.8,1175 1082.6,1177.9 1081.9,1181.4 1081.2,1183.8 1082,1186.8 1081.9,1191.8 1083.8,1195 1081.8,1196.7 1081.1,1201.1 1079.5,1202.8 1077.5,1206.2 1080.4,1207.3 1082.6,1209.2 1085,1213.3 1087.5,1215 1085.8,1218.2 1084.8,1221.2 1082.4,1223.4 1081.2,1227.5 1079.8,1230.4 1077.5,1232.5 1074.2,1232.5 1071.6,1234.6 1067.5,1236.2 1066.7,1240.6 1065.8,1243.4 1065,1247.5 1062,1248.8 1059.5,1251.6 1057.5,1252.5 1055,1254.2 1051.4,1256.3 1047.5,1258.8 1046.5,1262.7 1045.3,1265.6 1043.8,1270 1040.8,1271.9 1038,1275.3 1036.6,1278.5 1035,1281.2 1037.5,1283.8 1041.2,1285.7 1042.5,1288.8 1041.6,1291.4 1042.5,1294.5 1040.7,1296.6 1036.2,1299.8 1035,1302.5 1032.2,1305.9 1028.7,1307.7 1025.7,1309.3 1022.5,1311.2 1019.6,1311.3 1017.5,1312.5 1014.4,1315.4 1013.2,1319.5 1011.2,1322.5 1009.8,1324.6 1005.8,1326 1003.8,1327.5 1001.5,1331.7 1001.2,1335 1001,1337.9 1001.6,1343.1 999.9,1346.6 1000,1350 998.2,1351.5 995.9,1353.2 992.5,1355 990.4,1358.5 989.8,1362 987.8,1364.4 986.2,1367.5 983,1368.4 981.5,1369.8 977.5,1370 975.1,1373.5 972.8,1375.9 972.5,1378.8 971,1381.6 967.5,1384.5 964.3,1385.1 961.6,1385.3 957.5,1383.8 954.5,1384.3 951.8,1385.5 948.8,1385 945.3,1383.5 942.5,1380 940,1379.7 936.7,1380.2 932.5,1379.5 929.4,1379.4 925.8,1379.1 922.5,1380 919.4,1381.7 916.2,1382.5 913.5,1382.6 910.7,1379.7 907.5,1379.5 904.3,1378 901,1378.5 898.8,1377 896.5,1379.9 892.5,1381.6 890,1382.5 887.6,1383.3 884.2,1385.5 882.5,1386.6 880.7,1383.5 881,1379 880,1375 879.5,1370.8 877.2,1368.2 877.5,1365 876.4,1362.7 876.4,1360 876.2,1356.2 878.9,1353.9 880,1351.2 883.2,1349.2 886.2,1349.5 888.8,1347.5 889,1343.4 889.2,1341.4 891.2,1337.5 893.2,1335.2 893.7,1331.2 893.8,1328.8 895.1,1325.2 896.2,1323 897.5,1320 898.5,1315.8 900.5,1312.5 899.6,1308 898.9,1305.6 898.8,1301.2 900.5,1297.5 903.4,1294.2 903.8,1291.2 906.6,1289.4 909.9,1290.4 912.5,1288.8 914,1284.3 912.5,1280.7 914.2,1277.5 914.3,1273.2 911.1,1269.6 911.2,1266.2 908.9,1267.9 905,1270 901.8,1270 897.5,1267.5 894,1266.7 890,1265 887.9,1266.9 884.3,1266.3 881.2,1268 878.2,1265.7 877.4,1263.2 876.2,1260 874.5,1255.5 875.7,1253.2 873.8,1248.8 873,1246.3 871.2,1243.8 871.6,1240.3 872.9,1237.6 874,1235.1 873.8,1231.2 876.2,1228.8 872.2,1227.8 868.8,1225 868.6,1221.3 866.2,1217.5 869.3,1213.9 870,1210 872.5,1207.7 873,1205 875.5,1202.5 871.2,1201.8 868.8,1200 868.3,1196.8 867.5,1192.5 863.8,1191.2 861.8,1187.1 862.5,1183.8 864.5,1181.3 866.6,1176.8 868.8,1175 868.9,1171.2 872.5,1168.6 872.5,1165 875.3,1163.6 876.2,1161.2 877.5,1158.3 878.8,1154.4 878.8,1152 883.1,1152.2 886.6,1151.1 890,1152.5 893.2,1151 896.4,1149.1 898.8,1145.6 901.2,1143.8 902.6,1141.6 903.2,1138.8 899.7,1136.9 896.2,1136.3 892.5,1135.8 894.9,1132.7 896.2,1131.7 898.8,1128.8 901.2,1124.5 904.8,1125.6 909.7,1124.5 912.5,1126.2 915.9,1128.1 920,1128.8 923.7,1130.4 927.5,1132 929.8,1129.9 931.2,1128 929.4,1124.8 925,1122.5 923.5,1119.1 919.3,1117.6 918,1115 921.2,1111.2 924.6,1108.8 929.1,1108.1 932.5,1107.5 933.8,1103.5 931.6,1101.5 934,1098.1 933.2,1095 931.4,1092.2 929.7,1088 930,1085 930.2,1080.6 931.2,1077.5 928.1,1074 926.2,1071.2 927.2,1068.9 928.5,1065.6 928.8,1062.5 928,1059.1 930.5,1056.4 930,1053.8 927.5,1052.5 925,1054.4 922.2,1056.6 921.2,1058.8 918.1,1057.6 916.2,1055 915.1,1051.2 915,1048.8 912.4,1046.6 908.8,1043.8 906.2,1040 903,1040.2 898.8,1038 901.2,1035 904,1034.9 906.9,1032 909,1032 912.5,1031.2 913.8,1028.1 916.2,1025.4 918.8,1022.5 918.6,1020.1 920,1016.2 923.1,1015.5 927,1013.8 926.6,1012.1 925.4,1008.8Z"/>
<path id="r-phrae" d="M811.2,1185 814.3,1182.7 816.6,1182.2 820,1180 821.2,1183 823.8,1182.2 828.6,1181.8 831.7,1183.3 835,1182 837.5,1182.5 840.4,1181.9 844.1,1183 847.5,1182.5 850.9,1183.4 855.2,1182.4 858.7,1183.3 862.5,1183.8 861.8,1187.1 863.8,1191.2 867.5,1192.5 868.3,1196.8 868.8,1200 871.2,1201.8 875.5,1202.5 873,1205 872.5,1207.7 870,1210 869.3,1213.9 866.2,1217.5 868.6,1221.3 868.8,1225 872.2,1227.8 876.2,1228.8 873.8,1231.2 874,1235.1 872.9,1237.6 871.6,1240.3 871.2,1243.8 873,1246.3 873.8,1248.8 875.7,1253.2 874.5,1255.5 876.2,1260 877.4,1263.2 878.2,1265.7 881.2,1268 884.3,1266.3 887.9,1266.9 890,1265 894,1266.7 897.5,1267.5 901.8,1270 905,1270 908.9,1267.9 911.2,1266.2 911.1,1269.6 914.3,1273.2 914.2,1277.5 912.5,1280.7 914,1284.3 912.5,1288.8 909.9,1290.4 906.6,1289.4 903.8,1291.2 903.4,1294.2 900.5,1297.5 898.8,1301.2 898.9,1305.6 899.6,1308 900.5,1312.5 898.5,1315.8 897.5,1320 896.2,1323 895.1,1325.2 893.8,1328.8 893.7,1331.2 893.2,1335.2 891.2,1337.5 889.2,1341.4 889,1343.4 888.8,1347.5 886.2,1349.5 883.2,1349.2 880,1351.2 878.9,1353.9 876.2,1356.2 876.4,1360 876.4,1362.7 877.5,1365 877.2,1368.2 879.5,1370.8 880,1375 881,1379 880.7,1383.5 882.5,1386.6 880.1,1387.7 876.1,1387.8 872.5,1390 870.9,1392.4 868.5,1395.5 866.2,1397.5 865.8,1402 866,1405.2 866,1407.9 867,1412.5 865.7,1416.2 862.5,1418.8 858.8,1416.2 855.7,1413.3 855.5,1410.5 853.8,1407.5 852,1404.2 848.8,1402.5 844.9,1401.4 841.2,1400.8 838.7,1403.5 836.2,1403.8 834.4,1406.9 832.3,1410.3 830,1412.5 827.1,1413.5 825.8,1416 822.1,1417.5 820,1420 817.8,1422 815.5,1424.1 812.5,1427 809.9,1429.2 806.3,1430 804,1431 800,1431.2 796.6,1431.2 792.9,1429.9 790,1430 786.7,1430.4 784.6,1433.3 781.9,1431.9 778.8,1434.5 779.2,1438.8 777.5,1441.2 776.1,1443.4 772.4,1443.7 770,1447 767.3,1446.9 763.8,1446.2 762,1443.9 758.8,1441.2 756.4,1441.7 753.5,1440 750,1441.2 746.5,1441.8 744.1,1440.6 740,1442 735.9,1442.3 733.3,1442.2 730,1443.8 728.1,1445.5 726.5,1447.8 725,1451.2 722.1,1454.3 721.2,1457.4 718.8,1460 715,1461.2 711.9,1459 711.8,1455.7 708.8,1452.5 707.7,1449.5 704,1447.4 702.5,1443.8 699.2,1442.5 696.3,1440 692.5,1438.8 689.4,1439.5 685.2,1438.5 682.5,1437.5 679.2,1438.6 676.9,1438.2 673.7,1438.8 670,1440.5 667,1441.8 664.4,1443.8 662.4,1447.2 660,1447.5 659,1451.6 656.3,1454.9 655,1457.5 653.6,1460.5 651.2,1462.5 647.5,1463.9 646.1,1465 642.5,1466.2 640,1467 636.2,1468.1 633.8,1470 633,1466.5 633.1,1463.1 632.5,1460 631.7,1455.8 631.2,1452.9 630,1448.8 632.3,1445.9 632.6,1442.9 636.2,1440 637.2,1437.4 640.7,1434.7 641.5,1431 643.8,1428.8 645.8,1427.2 647.1,1423.7 651.3,1422.2 652.5,1420 655.4,1418 655.8,1413.4 658.8,1411.2 661,1407.7 663.6,1407.5 665.2,1404 666.6,1401.8 670,1400 671.4,1397.6 674.3,1396.2 678.6,1394.7 680.6,1392.9 682.5,1390 683.3,1386 683.8,1382.5 686.7,1381.7 689.9,1379.4 692.5,1376.2 696.5,1377.8 700,1380 704,1378.8 707.2,1377 710,1373.8 712.8,1371.1 716.2,1370 718.2,1366.9 720.1,1365.3 722.4,1362.4 723.8,1360 723.6,1356.7 724.5,1352.5 726.1,1348.7 728.7,1346 730,1343.8 732.7,1340.5 735.3,1337.7 736.2,1333.8 737.7,1332.2 741.7,1331.1 743.8,1328.8 745.1,1325.8 744.8,1323.3 747.5,1320 750.6,1319.9 754.4,1319.7 756.7,1319.4 760,1319.5 760.9,1315.2 760,1312.5 762.6,1310.4 764.5,1305.9 766.2,1302.5 767.4,1297.9 770.1,1296.6 771.2,1292.5 774.5,1292.6 777.8,1289.6 781.2,1288.8 781.6,1284.6 782.4,1283.1 783.2,1278.5 785,1276.2 788.1,1273.6 788.3,1269.9 791.5,1268.5 792.5,1265 792.7,1260.9 794.4,1257 795.3,1254.2 795,1250 798,1247.5 801.3,1246.4 803.8,1246.2 805.7,1246.3 808.8,1247.5 809.9,1244.7 811.8,1241.6 811.2,1238.8 808.2,1235.9 807.4,1232.2 806.2,1230 807.6,1226 808,1222.8 808.2,1218.3 807.5,1215 806.1,1212.5 806.5,1208.8 805,1205 806.2,1200.8 809.1,1199 809.5,1195 811.2,1192.5 810.8,1189 811.2,1185Z"/>
<path id="r-lampang" d="M638.8,1135.8 641.8,1135.1 645,1133.8 648.1,1132.4 650.8,1129.4 653.8,1126.2 656,1123.6 657.4,1121.4 658.8,1118.8 661.9,1117.9 665.8,1117.6 670,1115 670,1110 671.3,1107 674.9,1105.6 675.8,1102.5 674.8,1099.6 672.6,1096.8 670,1095 670.6,1092.2 671,1088.5 673,1085 673.4,1080.8 673.1,1077.7 672.5,1075 673.9,1071.8 676.2,1067.5 676.7,1064 678,1061.5 679.8,1057.1 681.2,1055 679.4,1051 679.5,1047.5 679.3,1044.1 680.3,1042.6 680,1038.8 678.7,1034 677,1031.2 679.5,1032.4 682.5,1035 685.8,1036.6 689.2,1037.7 691.5,1036.2 695,1038 697.5,1036.7 701,1037.7 705,1037.5 706.7,1033.6 706.2,1030.5 708.3,1034.6 707.6,1038.5 709.5,1041.2 710,1045 711.8,1049.4 711.2,1052.5 711,1055.5 709.5,1060 709.6,1063.1 709.2,1066.2 710.7,1068.9 711.2,1072.5 711.9,1076.5 713.2,1079.8 713,1082.4 715,1086.2 717.4,1088.8 717.2,1092.3 719.6,1095.2 720,1097.5 720.5,1100.7 721.7,1103.5 723.8,1106.2 725,1108.8 725.9,1111.4 724.9,1115.3 726.2,1118.4 727.5,1121.2 731.3,1122 735,1123.8 738.8,1122.5 739.4,1125.5 741.6,1128.3 742.2,1131.5 742.5,1135 745.9,1136.7 750,1137.5 754,1137.4 756.3,1138.4 760,1140 762.4,1142.5 764.6,1145.4 767.5,1146.2 769.9,1149 770.6,1151.9 772.5,1155 775,1155.5 777.5,1158 779.8,1159.8 782.5,1162.5 786.2,1164.3 790,1163.8 792.4,1167 795,1169.2 797.5,1172.5 799,1175.9 798,1178.7 800,1182.5 803.4,1181.3 807.5,1182 811.2,1185 810.8,1189 811.2,1192.5 809.5,1195 809.1,1199 806.2,1200.8 805,1205 806.5,1208.8 806.1,1212.5 807.5,1215 808.2,1218.3 808,1222.8 807.6,1226 806.2,1230 807.4,1232.2 808.2,1235.9 811.2,1238.8 811.8,1241.6 809.9,1244.7 808.8,1247.5 805.7,1246.3 803.8,1246.2 801.3,1246.4 798,1247.5 795,1250 795.3,1254.2 794.4,1257 792.7,1260.9 792.5,1265 791.5,1268.5 788.3,1269.9 788.1,1273.6 785,1276.2 783.2,1278.5 782.4,1283.1 781.6,1284.6 781.2,1288.8 777.8,1289.6 774.5,1292.6 771.2,1292.5 770.1,1296.6 767.4,1297.9 766.2,1302.5 764.5,1305.9 762.6,1310.4 760,1312.5 760.9,1315.2 760,1319.5 756.7,1319.4 754.4,1319.7 750.6,1319.9 747.5,1320 744.8,1323.3 745.1,1325.8 743.8,1328.8 741.7,1331.1 737.7,1332.2 736.2,1333.8 735.3,1337.7 732.7,1340.5 730,1343.8 728.7,1346 726.1,1348.7 724.5,1352.5 723.6,1356.7 723.8,1360 722.4,1362.4 720.1,1365.3 718.2,1366.9 716.2,1370 712.8,1371.1 710,1373.8 707.2,1377 704,1378.8 700,1380 696.5,1377.8 692.5,1376.2 689.9,1379.4 686.7,1381.7 683.8,1382.5 683.3,1386 682.5,1390 680.6,1392.9 678.6,1394.7 674.3,1396.2 671.4,1397.6 670,1400 666.6,1401.8 665.2,1404 663.6,1407.5 661,1407.7 658.8,1411.2 655.8,1413.4 655.4,1418 652.5,1420 651.3,1422.2 647.1,1423.7 645.8,1427.2 643.8,1428.8 641.5,1431 640.7,1434.7 637.2,1437.4 636.2,1440 632.6,1442.9 632.3,1445.9 630,1448.8 631.2,1452.9 631.7,1455.8 632.5,1460 633.1,1463.1 633,1466.5 633.8,1470 636.2,1468.1 640,1467 642.5,1466.2 646.1,1465 647.5,1463.9 651.2,1462.5 653.6,1460.5 655,1457.5 654.3,1460.9 654.8,1463.7 655.7,1467 655.5,1471.2 652.1,1474.2 652.1,1476.6 650,1480 650.1,1484 649.4,1487 650,1491.2 647.6,1492.6 643.8,1492.5 643.2,1496.3 641.2,1500 641.7,1502.7 643.7,1506.8 646.3,1509.4 647.5,1512.5 644.4,1515.5 642.5,1517.5 641,1521.1 639.8,1523 640,1526.2 641.3,1530 644.6,1530.8 646.2,1535 645.9,1537.8 646,1541.6 647.5,1543.8 648.8,1546.6 651.8,1548.6 653.8,1550 654.5,1553.5 656.2,1557.5 655.2,1560.5 653.1,1564.3 652.5,1567.5 652.2,1571 650.5,1574.9 651.2,1579.2 650,1582.5 648,1585.1 644.8,1587.6 642.5,1590 640,1590.1 637.2,1592 633.8,1592.5 633.1,1588.3 630,1585 627.2,1583.9 625.9,1579.5 622.5,1577.5 619,1575.4 617.3,1573.8 613.8,1571.2 613,1568.6 611,1566.4 610,1562.5 608.3,1559.1 607.5,1555.1 606.2,1552.5 605.5,1548.8 603.4,1545.7 603.8,1542 600.2,1541.9 598.5,1542 595,1542.5 593.1,1545 591.2,1548.8 589.3,1552.7 586.2,1555 582.5,1556.6 580,1560 577.9,1558.3 574.5,1555.6 572.5,1553.8 568.8,1552 565.1,1551.8 562.5,1550 559.1,1548.1 556.2,1547.5 552.5,1546.2 549.3,1544.2 546.2,1542.4 544.4,1540.1 542.5,1537.5 541.3,1534.6 539,1530.8 536.2,1527.5 532.6,1526.4 531.3,1525.8 527.5,1526.2 525.3,1523.2 522.5,1520 520.9,1517.7 520.1,1513 518.8,1510 519.8,1506 519.9,1502 519.5,1498.8 516.5,1498.2 513.8,1496.2 512.4,1493.1 512.8,1490.3 512.5,1487.5 514.9,1484.7 516.2,1483.6 518.8,1480.5 521.6,1480.8 525.7,1481.3 528.5,1482.1 531.5,1481.4 535,1482 538.8,1484.3 541.7,1484.3 545,1487.5 547.7,1488.7 551.4,1490 553.8,1489.5 553.2,1485.6 555.8,1482.8 556,1479.9 555.4,1476.3 556.2,1472.5 558.2,1470.1 560,1467.5 561,1463.5 559.9,1459.9 561.2,1457.5 562.7,1454.6 566,1453.8 567.5,1450 567.3,1446.7 568.1,1442.8 568.8,1440 572.1,1440.6 576.1,1440.9 578.5,1441.1 582.5,1440 582.4,1436.6 581.4,1434.7 580,1431.2 582.5,1428.9 586.2,1427.5 584.8,1424 581.7,1422.1 580.5,1417.5 579.2,1415.2 576.2,1412.5 572.4,1410.5 570.6,1408.3 567.5,1405 567.2,1400.7 566.4,1398.3 566.8,1395.1 566,1391.8 565,1387.5 563.2,1384 562.9,1382.3 562.9,1378.7 562.3,1375.6 560,1372.5 559.4,1369.4 558.1,1365.7 559.1,1363.4 558.2,1359.9 557.6,1357.2 556.9,1353.7 556.2,1350 554.9,1347.1 552.5,1343.5 550.3,1341.3 548.8,1337.5 547,1334.7 545.7,1329.4 546.2,1326.2 549.6,1323.7 553.4,1323.8 556.1,1322 559.2,1322.4 562.5,1320 566.1,1321.6 568.8,1322.5 571.1,1319.6 571.6,1316.5 573.7,1313.8 573.8,1311.2 575.3,1308.1 576.6,1306.9 580,1305 581.6,1301.1 583,1298.3 582.5,1295 585,1293 587.3,1291.9 590,1290 591,1287.6 593,1284.7 596.1,1283.3 597.5,1280 598.6,1276 600.4,1272.4 600,1268.8 604,1267.5 605.9,1267.5 610,1266.2 614,1266.3 617.5,1265 618.4,1262.3 618.9,1258.5 618.8,1255 620.5,1252.8 619.7,1248.5 621.2,1246.2 623.3,1243.7 624.9,1241 627.5,1237.5 624.9,1235 622.4,1234 620,1232.5 623.2,1228.4 623.8,1225 622.3,1221.2 622.1,1218.8 622.9,1215.6 621.2,1212.5 622.6,1208.5 625,1206.3 626,1203.7 627.5,1200 631.2,1200 629.6,1197.7 627.8,1193.1 627.5,1190 626.8,1187.3 626.2,1183.7 627.1,1179.1 627,1176.2 629.1,1174.8 631.2,1172.8 633.8,1170 633.1,1166.8 635.3,1163.2 635.1,1160.2 634.5,1157.5 634.1,1152.7 632.5,1150 633.1,1145.9 631.3,1144.2 632.5,1140 636.4,1137.7 638.8,1135.8Z"/>
<path id="r-utt" d="M763.8,1446.2 763.2,1449.6 761.2,1451.2 764.5,1452.9 766.3,1455.3 767.6,1458 770,1460 771.2,1462.9 774.1,1466.8 775,1470 774.5,1473.2 776.1,1475.8 776.8,1480 776.2,1482.5 773.2,1486.7 772.5,1490 768.9,1492.7 768.1,1495.3 763.8,1497.5 764.4,1501.4 765.8,1503.7 766.2,1506.2 765.9,1508.7 765,1512.5 768.2,1514.4 769.8,1515 772.5,1517.5 774.7,1521 776.5,1522.6 778.8,1526.2 782.5,1527.5 785.7,1527.8 787.5,1530 788.2,1532.4 788.8,1536.2 785.9,1538.6 783.3,1539.6 780,1541.2 780.9,1543.6 782.1,1547.6 783.8,1550 783.9,1553.2 784.7,1556.2 783.8,1560 783.2,1563.5 782.8,1567.3 781.2,1570 778.6,1571 775,1573.8 774.6,1577.2 773.2,1580.9 772.5,1583.8 774.6,1587.3 775.4,1591.9 776.2,1595 776.6,1598 777.3,1600.9 777.5,1603.8 778.9,1607.2 782.5,1610 786.2,1607.5 788,1603.6 790,1600 793.7,1600.1 797.5,1599.8 801.8,1598.8 805,1597.5 808.4,1598.3 811,1598.8 815,1598.8 817.9,1599.9 820,1602.5 822.2,1599.5 820.9,1596.7 822.5,1593.8 825.9,1594.2 827.5,1591.5 830.8,1590.8 835.1,1590.9 837.5,1590 841,1588.8 843.6,1589.1 846.3,1589.4 849.5,1588.2 848.6,1585.5 849.4,1582.2 848.8,1577.7 847.5,1575 848.7,1571.9 849.9,1568.5 850.5,1563.5 850,1560 850.1,1556 851.4,1554.3 851.2,1550 854.7,1551.5 857.5,1551.2 860.8,1548.6 862.5,1546.2 865,1545.9 867.9,1544.3 872.4,1542.3 875,1542.5 878.5,1542.1 881,1540.4 885,1538.8 888.2,1537.8 892.4,1538 894.7,1537.3 898.4,1537.3 902.5,1537.5 903.8,1541.2 906.7,1540.8 911.1,1538.9 915,1539.5 918.3,1538 922,1539.1 925,1538 927.2,1533.5 927.5,1530 929.8,1527.8 933.4,1525.9 935,1523.8 936.6,1521.7 939.2,1519.6 942.1,1517.7 945,1516.2 946.6,1513.6 950,1511.2 952.5,1509.3 957.6,1509.4 960,1507.5 962.8,1505.2 964.5,1502.9 965,1500 966.9,1496.6 967.8,1494.6 969.7,1492.7 972.5,1490 973.5,1485.9 975,1482.5 978.1,1480.6 981.3,1480.1 985,1477.5 986.3,1474.7 988.8,1471 990,1468.8 992.6,1465.1 996.2,1463 999.1,1465.8 1001.2,1467.5 1005.1,1466.8 1008.3,1465.9 1010.9,1465.9 1015,1466.2 1016.5,1462.1 1019.5,1460 1018.4,1455.5 1017.5,1452.5 1021.1,1451 1023.8,1447.5 1022.1,1443.4 1021.2,1440 1022.4,1437.8 1023.8,1435 1027,1435.3 1030.5,1433.8 1029.5,1431.1 1031.3,1427.7 1030,1425 1029,1422.6 1026.2,1420 1029.4,1417.9 1030.9,1416.9 1032.5,1413.8 1034.7,1412.5 1039.1,1411.3 1041.2,1410.1 1044.4,1409 1047.5,1407.5 1048.5,1404.1 1051.2,1402.5 1052.3,1398.5 1051.7,1394.2 1052.5,1391.2 1054,1387.9 1055.8,1385.5 1057.5,1383.8 1059.6,1382.4 1061.1,1379.8 1063.8,1377.5 1065.3,1375.4 1067,1372.5 1065.8,1369.2 1063.9,1366.6 1062.5,1362.5 1062.2,1359.1 1062.9,1356.7 1063.1,1353 1065,1350 1066,1345.7 1067.5,1343.9 1068.5,1340.6 1068.8,1336.2 1064.5,1333.8 1062.5,1331.2 1061.5,1327.5 1058.8,1325.3 1058.8,1322.5 1061.3,1320 1062.7,1316.2 1063.8,1313.8 1065,1311.2 1065.1,1308.4 1066.2,1305 1062.6,1304.4 1060.7,1302.7 1057.5,1301.2 1054.9,1299.3 1050.9,1297.8 1049.3,1296.3 1046.2,1294.9 1042.5,1294.5 1040.7,1296.6 1036.2,1299.8 1035,1302.5 1032.2,1305.9 1028.7,1307.7 1025.7,1309.3 1022.5,1311.2 1019.6,1311.3 1017.5,1312.5 1014.4,1315.4 1013.2,1319.5 1011.2,1322.5 1009.8,1324.6 1005.8,1326 1003.8,1327.5 1001.5,1331.7 1001.2,1335 1001,1337.9 1001.6,1343.1 999.9,1346.6 1000,1350 998.2,1351.5 995.9,1353.2 992.5,1355 990.4,1358.5 989.8,1362 987.8,1364.4 986.2,1367.5 983,1368.4 981.5,1369.8 977.5,1370 975.1,1373.5 972.8,1375.9 972.5,1378.8 971,1381.6 967.5,1384.5 964.3,1385.1 961.6,1385.3 957.5,1383.8 954.5,1384.3 951.8,1385.5 948.8,1385 945.3,1383.5 942.5,1380 940,1379.7 936.7,1380.2 932.5,1379.5 929.4,1379.4 925.8,1379.1 922.5,1380 919.4,1381.7 916.2,1382.5 913.5,1382.6 910.7,1379.7 907.5,1379.5 904.3,1378 901,1378.5 898.8,1377 896.5,1379.9 892.5,1381.6 890,1382.5 887.6,1383.3 884.2,1385.5 882.5,1386.6 880.1,1387.7 876.1,1387.8 872.5,1390 870.9,1392.4 868.5,1395.5 866.2,1397.5 865.8,1402 866,1405.2 866,1407.9 867,1412.5 865.7,1416.2 862.5,1418.8 858.8,1416.2 855.7,1413.3 855.5,1410.5 853.8,1407.5 852,1404.2 848.8,1402.5 844.9,1401.4 841.2,1400.8 838.7,1403.5 836.2,1403.8 834.4,1406.9 832.3,1410.3 830,1412.5 827.1,1413.5 825.8,1416 822.1,1417.5 820,1420 817.8,1422 815.5,1424.1 812.5,1427 809.9,1429.2 806.3,1430 804,1431 800,1431.2 796.6,1431.2 792.9,1429.9 790,1430 786.7,1430.4 784.6,1433.3 781.9,1431.9 778.8,1434.5 779.2,1438.8 777.5,1441.2 776.1,1443.4 772.4,1443.7 770,1447 767.3,1446.9 763.8,1446.2Z"/>
</defs>
<g>
<g transform="translate(0,0)" stroke="#15130f" stroke-opacity="0.71" stroke-width="1.7" stroke-linejoin="miter" stroke-miterlimit="2">
<use href="#r-green" fill="#E0ECBD"/>
<use href="#r-cmai" fill="#EC9B66"/>
<use href="#r-lamphun" fill="#EC9B66"/>
<use href="#r-lampang" fill="#EC9B66"/>
<use href="#r-utt" fill="#EC9B66"/>
<use href="#r-crai" fill="#D21B1E"/>
<use href="#r-phayao" fill="#F2D690"/>
<use href="#r-nan" fill="#F2D690"/>
<use href="#r-phrae" fill="#F2D690"/>
</g>
<path d="M181.2,685.6V1700.8000000000002M301.3,685.6V1700.8000000000002M421.4,685.6V1700.8000000000002M541.5,685.6V1700.8000000000002M661.6,685.6V1700.8000000000002M781.7,685.6V1700.8000000000002M901.8,685.6V1700.8000000000002M1021.9,685.6V1700.8000000000002" fill="none" stroke="#7d7d7d" stroke-opacity="0.23" stroke-width="1.8"/>
<path d="M113.0,756.0H1128.1M113.0,883.0H1128.1M113.0,1009.9H1128.1M113.0,1136.8H1128.1M113.0,1263.8H1128.1M113.0,1390.8H1128.1M113.0,1517.7H1128.1M113.0,1644.7H1128.1" fill="none" stroke="#7d7d7d" stroke-opacity="0.23" stroke-width="1.8"/>
<rect x="123.4" y="685.6" width="1004.7" height="1003.8" fill="none" stroke="#000" stroke-width="1.5"/>
<text x="180.7" y="1733.6" text-anchor="middle" class="ax">97.5</text>
<text x="300.8" y="1733.6" text-anchor="middle" class="ax">98.0</text>
<text x="420.9" y="1733.6" text-anchor="middle" class="ax">98.5</text>
<text x="541.0" y="1733.6" text-anchor="middle" class="ax">99.0</text>
<text x="661.1" y="1733.6" text-anchor="middle" class="ax">99.5</text>
<text x="781.2" y="1733.6" text-anchor="middle" class="ax">100.0</text>
<text x="901.3" y="1733.6" text-anchor="middle" class="ax">100.5</text>
<text x="1021.4" y="1733.6" text-anchor="middle" class="ax">101.0</text>
<text x="103.0" y="768.9" text-anchor="end" class="ax">20.5</text>
<text x="103.0" y="895.9" text-anchor="end" class="ax">20.0</text>
<text x="103.0" y="1022.8" text-anchor="end" class="ax">19.5</text>
<text x="103.0" y="1149.8" text-anchor="end" class="ax">19.0</text>
<text x="103.0" y="1276.7" text-anchor="end" class="ax">18.5</text>
<text x="103.0" y="1403.7" text-anchor="end" class="ax">18.0</text>
<text x="103.0" y="1530.6" text-anchor="end" class="ax">17.5</text>
<text x="103.0" y="1657.6" text-anchor="end" class="ax">17.0</text>
<text x="147.4" y="735.6" class="lt" style="font-size:27.4px">Local Moran's I</text>
<rect x="151.0" y="750.75" width="31.1" height="30.72" fill="#E0ECBD" stroke="#111" stroke-opacity="0.78" stroke-width="1.7"/>
<text x="189.6" y="777.5" class="ll">-1.5 to -1.0</text>
<rect x="151.0" y="781.47" width="31.1" height="30.72" fill="#F1F0AC" stroke="#111" stroke-opacity="0.78" stroke-width="1.7"/>
<text x="189.6" y="808.2" class="ll">-1.0 to -0.5</text>
<rect x="151.0" y="812.19" width="31.1" height="30.72" fill="#F2D690" stroke="#111" stroke-opacity="0.78" stroke-width="1.7"/>
<text x="189.6" y="838.9" class="ll">-0.5 to 0.0</text>
<rect x="151.0" y="842.91" width="31.1" height="30.72" fill="#EC9B66" stroke="#111" stroke-opacity="0.78" stroke-width="1.7"/>
<text x="189.6" y="869.7" class="ll">0.0 to 0.5</text>
<rect x="151.0" y="873.63" width="31.1" height="30.72" fill="#E5704C" stroke="#111" stroke-opacity="0.78" stroke-width="1.7"/>
<text x="189.6" y="900.4" class="ll">0.5 to 1.0</text>
<rect x="151.0" y="904.35" width="31.1" height="30.72" fill="#DC4436" stroke="#111" stroke-opacity="0.78" stroke-width="1.7"/>
<text x="189.6" y="931.1" class="ll">1.0 to 1.5</text>
<rect x="151.0" y="935.07" width="31.1" height="30.72" fill="#D21B1E" stroke="#111" stroke-opacity="0.78" stroke-width="1.7"/>
<text x="189.6" y="961.8" class="ll">1.5 to 2.0</text>
<text x="1069.3" y="717.8" text-anchor="middle" class="nn">N</text>
<path d="M1070.1,763.2L1070.1,724.6L1065.8,752.9Z" fill="#fff" stroke="#000" stroke-width="1.7" stroke-linejoin="miter"/>
<path d="M1070.1,763.2L1070.1,724.6L1074.4,752.9Z" fill="#000" stroke="#000" stroke-width="1.7" stroke-linejoin="miter"/>
<path d="M1070.1,763.2L1085.7,747.6L1074.4,752.9Z" fill="#fff" stroke="#000" stroke-width="1.7" stroke-linejoin="miter"/>
<path d="M1070.1,763.2L1085.7,747.6L1080.4,758.9Z" fill="#000" stroke="#000" stroke-width="1.7" stroke-linejoin="miter"/>
<path d="M1070.1,763.2L1108.7,763.2L1080.4,758.9Z" fill="#fff" stroke="#000" stroke-width="1.7" stroke-linejoin="miter"/>
<path d="M1070.1,763.2L1108.7,763.2L1080.4,767.5Z" fill="#000" stroke="#000" stroke-width="1.7" stroke-linejoin="miter"/>
<path d="M1070.1,763.2L1085.7,778.8L1080.4,767.5Z" fill="#fff" stroke="#000" stroke-width="1.7" stroke-linejoin="miter"/>
<path d="M1070.1,763.2L1085.7,778.8L1074.4,773.5Z" fill="#000" stroke="#000" stroke-width="1.7" stroke-linejoin="miter"/>
<path d="M1070.1,763.2L1070.1,801.8L1074.4,773.5Z" fill="#fff" stroke="#000" stroke-width="1.7" stroke-linejoin="miter"/>
<path d="M1070.1,763.2L1070.1,801.8L1065.8,773.5Z" fill="#000" stroke="#000" stroke-width="1.7" stroke-linejoin="miter"/>
<path d="M1070.1,763.2L1054.5,778.8L1065.8,773.5Z" fill="#fff" stroke="#000" stroke-width="1.7" stroke-linejoin="miter"/>
<path d="M1070.1,763.2L1054.5,778.8L1059.8,767.5Z" fill="#000" stroke="#000" stroke-width="1.7" stroke-linejoin="miter"/>
<path d="M1070.1,763.2L1031.5,763.2L1059.8,767.5Z" fill="#fff" stroke="#000" stroke-width="1.7" stroke-linejoin="miter"/>
<path d="M1070.1,763.2L1031.5,763.2L1059.8,758.9Z" fill="#000" stroke="#000" stroke-width="1.7" stroke-linejoin="miter"/>
<path d="M1070.1,763.2L1054.5,747.6L1059.8,758.9Z" fill="#fff" stroke="#000" stroke-width="1.7" stroke-linejoin="miter"/>
<path d="M1070.1,763.2L1054.5,747.6L1065.8,752.9Z" fill="#000" stroke="#000" stroke-width="1.7" stroke-linejoin="miter"/>
<rect x="134.1" y="1633.1" width="273.8" height="13.9" fill="#fff" stroke="#000" stroke-width="2"/>
<rect x="178.5" y="1632.1" width="47.2" height="15.9" fill="#000"/>
<rect x="270.4" y="1632.1" width="47.2" height="15.9" fill="#000"/>
<rect x="362.3" y="1632.1" width="47.2" height="15.9" fill="#000"/>
<text x="133.1" y="1670.8" text-anchor="middle" class="sb">0</text>
<text x="179.1" y="1670.8" text-anchor="middle" class="sb">20</text>
<text x="225.0" y="1670.8" text-anchor="middle" class="sb">40</text>
<text x="271.0" y="1670.8" text-anchor="middle" class="sb">60</text>
<text x="317.0" y="1670.8" text-anchor="middle" class="sb">80</text>
<text x="362.9" y="1670.8" text-anchor="middle" class="sb">100</text>
<text x="408.9" y="1670.8" text-anchor="middle" class="sb">120</text>
<text x="435.0" y="1670.8" class="sb">km</text>
<text x="204.0" y="611" class="tt" textLength="730.7" lengthAdjust="spacingAndGlyphs">Village-Level Spatial Autocorrelation</text>
<text x="200.5" y="670.5" class="tt" textLength="749.7" lengthAdjust="spacingAndGlyphs">of drug use cases in Northern Region</text>
</g>
<g>
<g transform="translate(1152,0)" stroke="#15130f" stroke-opacity="0.71" stroke-width="1.7" stroke-linejoin="miter" stroke-miterlimit="2">
<use href="#r-green" fill="#B7DCEA"/>
<use href="#r-cmai" fill="#B7DCEA"/>
<use href="#r-lamphun" fill="#B7DCEA"/>
<use href="#r-lampang" fill="#B7DCEA"/>
<use href="#r-utt" fill="#B7DCEA"/>
<use href="#r-crai" fill="#B7DCEA"/>
<use href="#r-phayao" fill="#B7DCEA"/>
<use href="#r-nan" fill="#B7DCEA"/>
<use href="#r-phrae" fill="#B7DCEA"/>
</g>
<path d="M1333.2,685.6V1700.8000000000002M1453.3,685.6V1700.8000000000002M1573.4,685.6V1700.8000000000002M1693.5,685.6V1700.8000000000002M1813.6,685.6V1700.8000000000002M1933.7,685.6V1700.8000000000002M2053.8,685.6V1700.8000000000002M2173.9,685.6V1700.8000000000002" fill="none" stroke="#7d7d7d" stroke-opacity="0.23" stroke-width="1.8"/>
<path d="M1265.0,756.0H2280.1M1265.0,883.0H2280.1M1265.0,1009.9H2280.1M1265.0,1136.8H2280.1M1265.0,1263.8H2280.1M1265.0,1390.8H2280.1M1265.0,1517.7H2280.1M1265.0,1644.7H2280.1" fill="none" stroke="#7d7d7d" stroke-opacity="0.23" stroke-width="1.8"/>
<rect x="1275.4" y="685.6" width="1004.7" height="1003.8" fill="none" stroke="#000" stroke-width="1.5"/>
<text x="1332.7" y="1733.6" text-anchor="middle" class="ax">97.5</text>
<text x="1452.8" y="1733.6" text-anchor="middle" class="ax">98.0</text>
<text x="1572.9" y="1733.6" text-anchor="middle" class="ax">98.5</text>
<text x="1693.0" y="1733.6" text-anchor="middle" class="ax">99.0</text>
<text x="1813.1" y="1733.6" text-anchor="middle" class="ax">99.5</text>
<text x="1933.2" y="1733.6" text-anchor="middle" class="ax">100.0</text>
<text x="2053.3" y="1733.6" text-anchor="middle" class="ax">100.5</text>
<text x="2173.4" y="1733.6" text-anchor="middle" class="ax">101.0</text>
<text x="1255.0" y="768.9" text-anchor="end" class="ax">20.5</text>
<text x="1255.0" y="895.9" text-anchor="end" class="ax">20.0</text>
<text x="1255.0" y="1022.8" text-anchor="end" class="ax">19.5</text>
<text x="1255.0" y="1149.8" text-anchor="end" class="ax">19.0</text>
<text x="1255.0" y="1276.7" text-anchor="end" class="ax">18.5</text>
<text x="1255.0" y="1403.7" text-anchor="end" class="ax">18.0</text>
<text x="1255.0" y="1530.6" text-anchor="end" class="ax">17.5</text>
<text x="1255.0" y="1657.6" text-anchor="end" class="ax">17.0</text>
<text x="1299.4" y="735.6" class="lt" style="font-size:26.65px">p-value</text>
<rect x="1303.0" y="750.75" width="31.1" height="30.72" fill="#F0B47A" stroke="#111" stroke-opacity="0.78" stroke-width="1.7"/>
<text x="1341.6" y="777.5" class="ll">0.001</text>
<rect x="1303.0" y="781.47" width="31.1" height="30.72" fill="#F0B47A" stroke="#111" stroke-opacity="0.78" stroke-width="1.7"/>
<text x="1341.6" y="808.2" class="ll">0.01</text>
<rect x="1303.0" y="812.19" width="31.1" height="30.72" fill="#DAE8C6" stroke="#111" stroke-opacity="0.78" stroke-width="1.7"/>
<text x="1341.6" y="838.9" class="ll">0.05</text>
<rect x="1303.0" y="842.91" width="31.1" height="30.72" fill="#B7DCEA" stroke="#111" stroke-opacity="0.78" stroke-width="1.7"/>
<text x="1341.6" y="869.7" class="ll">Not sig</text>
<text x="2221.3" y="717.8" text-anchor="middle" class="nn">N</text>
<path d="M2222.1,763.2L2222.1,724.6L2217.8,752.9Z" fill="#fff" stroke="#000" stroke-width="1.7" stroke-linejoin="miter"/>
<path d="M2222.1,763.2L2222.1,724.6L2226.4,752.9Z" fill="#000" stroke="#000" stroke-width="1.7" stroke-linejoin="miter"/>
<path d="M2222.1,763.2L2237.7,747.6L2226.4,752.9Z" fill="#fff" stroke="#000" stroke-width="1.7" stroke-linejoin="miter"/>
<path d="M2222.1,763.2L2237.7,747.6L2232.4,758.9Z" fill="#000" stroke="#000" stroke-width="1.7" stroke-linejoin="miter"/>
<path d="M2222.1,763.2L2260.7,763.2L2232.4,758.9Z" fill="#fff" stroke="#000" stroke-width="1.7" stroke-linejoin="miter"/>
<path d="M2222.1,763.2L2260.7,763.2L2232.4,767.5Z" fill="#000" stroke="#000" stroke-width="1.7" stroke-linejoin="miter"/>
<path d="M2222.1,763.2L2237.7,778.8L2232.4,767.5Z" fill="#fff" stroke="#000" stroke-width="1.7" stroke-linejoin="miter"/>
<path d="M2222.1,763.2L2237.7,778.8L2226.4,773.5Z" fill="#000" stroke="#000" stroke-width="1.7" stroke-linejoin="miter"/>
<path d="M2222.1,763.2L2222.1,801.8L2226.4,773.5Z" fill="#fff" stroke="#000" stroke-width="1.7" stroke-linejoin="miter"/>
<path d="M2222.1,763.2L2222.1,801.8L2217.8,773.5Z" fill="#000" stroke="#000" stroke-width="1.7" stroke-linejoin="miter"/>
<path d="M2222.1,763.2L2206.5,778.8L2217.8,773.5Z" fill="#fff" stroke="#000" stroke-width="1.7" stroke-linejoin="miter"/>
<path d="M2222.1,763.2L2206.5,778.8L2211.8,767.5Z" fill="#000" stroke="#000" stroke-width="1.7" stroke-linejoin="miter"/>
<path d="M2222.1,763.2L2183.5,763.2L2211.8,767.5Z" fill="#fff" stroke="#000" stroke-width="1.7" stroke-linejoin="miter"/>
<path d="M2222.1,763.2L2183.5,763.2L2211.8,758.9Z" fill="#000" stroke="#000" stroke-width="1.7" stroke-linejoin="miter"/>
<path d="M2222.1,763.2L2206.5,747.6L2211.8,758.9Z" fill="#fff" stroke="#000" stroke-width="1.7" stroke-linejoin="miter"/>
<path d="M2222.1,763.2L2206.5,747.6L2217.8,752.9Z" fill="#000" stroke="#000" stroke-width="1.7" stroke-linejoin="miter"/>
<rect x="1286.1" y="1633.1" width="273.8" height="13.9" fill="#fff" stroke="#000" stroke-width="2"/>
<rect x="1330.5" y="1632.1" width="47.2" height="15.9" fill="#000"/>
<rect x="1422.4" y="1632.1" width="47.2" height="15.9" fill="#000"/>
<rect x="1514.3" y="1632.1" width="47.2" height="15.9" fill="#000"/>
<text x="1285.1" y="1670.8" text-anchor="middle" class="sb">0</text>
<text x="1331.1" y="1670.8" text-anchor="middle" class="sb">20</text>
<text x="1377.0" y="1670.8" text-anchor="middle" class="sb">40</text>
<text x="1423.0" y="1670.8" text-anchor="middle" class="sb">60</text>
<text x="1469.0" y="1670.8" text-anchor="middle" class="sb">80</text>
<text x="1514.9" y="1670.8" text-anchor="middle" class="sb">100</text>
<text x="1560.9" y="1670.8" text-anchor="middle" class="sb">120</text>
<text x="1587.0" y="1670.8" class="sb">km</text>
<text x="1235.8" y="611" class="tt" textLength="984.2" lengthAdjust="spacingAndGlyphs">Statistical Significance of Spatial Autocorrelation</text>
<text x="1390.2" y="670.5" class="tt" textLength="687.6" lengthAdjust="spacingAndGlyphs">of drug use cases in North District</text>
</g>
</svg>
</body></html>
